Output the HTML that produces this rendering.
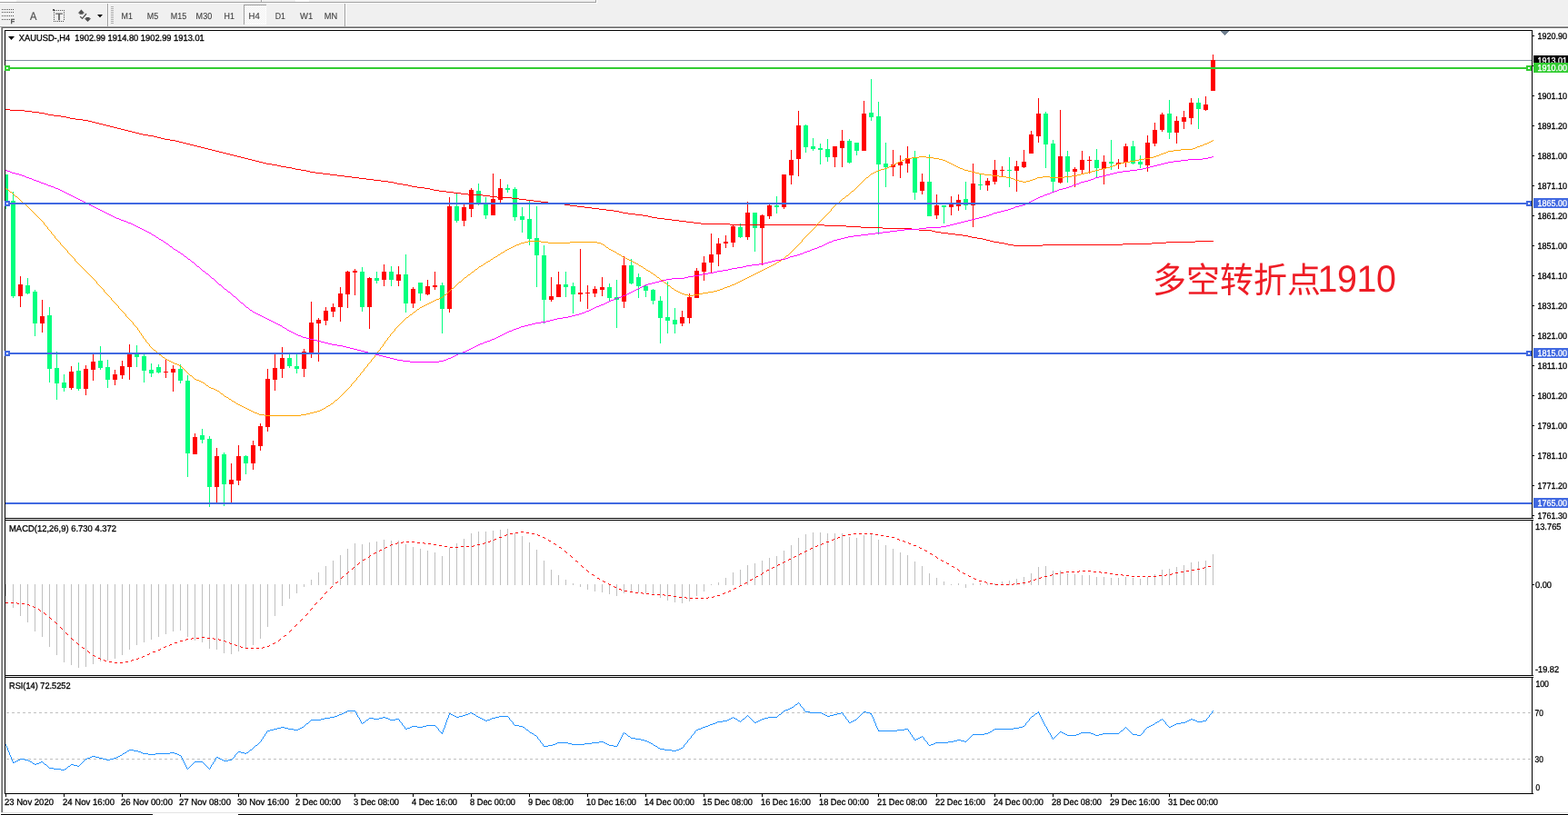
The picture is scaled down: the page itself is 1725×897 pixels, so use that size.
<!DOCTYPE html>
<html lang="zh"><head><meta charset="utf-8"><title>XAUUSD-,H4</title>
<style>
html,body{margin:0;padding:0;background:#fff;overflow:hidden}
svg{display:block;text-rendering:geometricPrecision;font-family:"Liberation Sans","Noto Sans CJK SC",sans-serif}
</style></head><body>
<svg width="1725" height="897" viewBox="0 0 1725 897">
<rect x="0" y="0" width="1725" height="897" fill="#fff"/>
<rect x="0" y="0" width="1725" height="29" fill="#f0f0f0"/>
<rect x="0" y="2" width="656" height="1" fill="#a0a0a0"/>
<rect x="0" y="3" width="657" height="1" fill="#fff"/>
<rect x="655" y="0" width="1" height="3" fill="#a0a0a0"/>
<rect x="656" y="0" width="1" height="4" fill="#fff"/>
<rect x="287" y="0" width="1" height="2" fill="#a0a0a0"/>
<rect x="288" y="0" width="1" height="2" fill="#fff"/>
<rect x="0" y="0" width="18" height="2" fill="#fff"/>
<rect x="325" y="0" width="15" height="2" fill="#fff"/>
<rect x="0" y="28" width="1725" height="1" fill="#f8f8f8"/>
<rect x="0" y="29" width="1725" height="1" fill="#a0a0a0"/>
<rect x="0" y="30" width="1725" height="1" fill="#696969"/>
<rect x="0" y="30" width="1" height="867" fill="#fff"/>
<rect x="1" y="29" width="1" height="868" fill="#a0a0a0"/>
<rect x="2" y="30" width="1" height="867" fill="#696969"/>
<g fill="#505050">
<rect x="2" y="10" width="1" height="1" fill="#505050"/>
<rect x="4" y="10" width="1" height="1" fill="#505050"/>
<rect x="6" y="10" width="1" height="1" fill="#505050"/>
<rect x="8" y="10" width="1" height="1" fill="#505050"/>
<rect x="10" y="10" width="1" height="1" fill="#505050"/>
<rect x="12" y="10" width="1" height="1" fill="#505050"/>
<rect x="14" y="10" width="1" height="1" fill="#505050"/>
<rect x="2" y="13" width="1" height="1" fill="#505050"/>
<rect x="4" y="13" width="1" height="1" fill="#505050"/>
<rect x="6" y="13" width="1" height="1" fill="#505050"/>
<rect x="8" y="13" width="1" height="1" fill="#505050"/>
<rect x="10" y="13" width="1" height="1" fill="#505050"/>
<rect x="12" y="13" width="1" height="1" fill="#505050"/>
<rect x="14" y="13" width="1" height="1" fill="#505050"/>
<rect x="2" y="17" width="1" height="1" fill="#505050"/>
<rect x="4" y="17" width="1" height="1" fill="#505050"/>
<rect x="6" y="17" width="1" height="1" fill="#505050"/>
<rect x="8" y="17" width="1" height="1" fill="#505050"/>
<rect x="10" y="17" width="1" height="1" fill="#505050"/>
<rect x="12" y="17" width="1" height="1" fill="#505050"/>
<rect x="14" y="17" width="1" height="1" fill="#505050"/>
<rect x="2" y="21" width="1" height="1" fill="#505050"/>
<rect x="4" y="21" width="1" height="1" fill="#505050"/>
<rect x="6" y="21" width="1" height="1" fill="#505050"/>
<rect x="8" y="21" width="1" height="1" fill="#505050"/>
<rect x="10" y="21" width="1" height="1" fill="#505050"/>
</g>
<text x="11.8" y="26" font-size="7.2" fill="#505050" stroke="#505050" stroke-width="0.5">F</text>
<text x="32.9" y="22" font-size="12.5" fill="#505050" stroke="#505050" stroke-width="0.2" textLength="7.4" lengthAdjust="spacingAndGlyphs">A</text>
<rect x="60" y="11" width="1" height="1" fill="#505050"/>
<rect x="59" y="23" width="1" height="1" fill="#505050"/>
<rect x="62" y="11" width="1" height="1" fill="#505050"/>
<rect x="61" y="23" width="1" height="1" fill="#505050"/>
<rect x="64" y="11" width="1" height="1" fill="#505050"/>
<rect x="63" y="23" width="1" height="1" fill="#505050"/>
<rect x="66" y="11" width="1" height="1" fill="#505050"/>
<rect x="65" y="23" width="1" height="1" fill="#505050"/>
<rect x="68" y="11" width="1" height="1" fill="#505050"/>
<rect x="67" y="23" width="1" height="1" fill="#505050"/>
<rect x="70" y="11" width="1" height="1" fill="#505050"/>
<rect x="69" y="23" width="1" height="1" fill="#505050"/>
<rect x="59" y="13" width="1" height="1" fill="#505050"/>
<rect x="70" y="13" width="1" height="1" fill="#505050"/>
<rect x="59" y="15" width="1" height="1" fill="#505050"/>
<rect x="70" y="15" width="1" height="1" fill="#505050"/>
<rect x="59" y="17" width="1" height="1" fill="#505050"/>
<rect x="70" y="17" width="1" height="1" fill="#505050"/>
<rect x="59" y="19" width="1" height="1" fill="#505050"/>
<rect x="70" y="19" width="1" height="1" fill="#505050"/>
<rect x="59" y="21" width="1" height="1" fill="#505050"/>
<rect x="70" y="21" width="1" height="1" fill="#505050"/>
<rect x="58" y="10" width="2" height="1" fill="#505050"/>
<rect x="58" y="11" width="3" height="1" fill="#505050"/>
<text x="61" y="21.6" font-size="10.5" fill="#505050" stroke="#505050" stroke-width="0.3" textLength="8" lengthAdjust="spacingAndGlyphs">T</text>
<path d="M89.4 10.6 L93.1 14.4 L91.4 14.4 L91.4 15.8 L87.4 15.8 L87.4 14.4 L85.7 14.4 Z" fill="#505050"/>
<path d="M96.5 24 L100.2 20.3 L98.5 20.3 L98.5 19 L94.5 19 L94.5 20.3 L92.8 20.3 Z" fill="#505050"/>
<path d="M88.2 18.2 L90.6 20.4 L95 15" fill="none" stroke="#505050" stroke-width="1.3"/>
<path d="M107 16 L113 16 L110 19.2 Z" fill="#000"/>
<rect x="118" y="4" width="1" height="25" fill="#a0a0a0"/>
<rect x="119" y="4" width="1" height="25" fill="#fff"/>
<rect x="122" y="7" width="3" height="1" fill="#b0b0b0"/>
<rect x="122" y="9" width="3" height="1" fill="#b0b0b0"/>
<rect x="122" y="11" width="3" height="1" fill="#b0b0b0"/>
<rect x="122" y="13" width="3" height="1" fill="#b0b0b0"/>
<rect x="122" y="15" width="3" height="1" fill="#b0b0b0"/>
<rect x="122" y="17" width="3" height="1" fill="#b0b0b0"/>
<rect x="122" y="19" width="3" height="1" fill="#b0b0b0"/>
<rect x="122" y="21" width="3" height="1" fill="#b0b0b0"/>
<rect x="122" y="23" width="3" height="1" fill="#b0b0b0"/>
<rect x="122" y="25" width="3" height="1" fill="#b0b0b0"/>
<rect x="379" y="4" width="1" height="25" fill="#a0a0a0"/>
<rect x="380" y="4" width="1" height="25" fill="#fff"/>
<defs><pattern id="chk" width="2" height="2" patternUnits="userSpaceOnUse"><rect width="2" height="2" fill="#f0f0f0"/><rect width="1" height="1" fill="#fff"/><rect x="1" y="1" width="1" height="1" fill="#fff"/></pattern></defs>
<rect x="268" y="5" width="25" height="22" fill="url(#chk)"/>
<rect x="268" y="26" width="25" height="1" fill="#fff"/>
<rect x="292" y="5" width="1" height="22" fill="#fff"/>
<rect x="268" y="5" width="25" height="1" fill="#a0a0a0"/>
<rect x="268" y="5" width="1" height="22" fill="#a0a0a0"/>
<text x="133.6" y="21" font-size="10" fill="#3c3c3c" stroke="#3c3c3c" stroke-width="0.1" textLength="12.4" lengthAdjust="spacingAndGlyphs">M1</text>
<text x="161.8" y="21" font-size="10" fill="#3c3c3c" stroke="#3c3c3c" stroke-width="0.1" textLength="12.4" lengthAdjust="spacingAndGlyphs">M5</text>
<text x="187.8" y="21" font-size="10" fill="#3c3c3c" stroke="#3c3c3c" stroke-width="0.1" textLength="17.4" lengthAdjust="spacingAndGlyphs">M15</text>
<text x="215.6" y="21" font-size="10" fill="#3c3c3c" stroke="#3c3c3c" stroke-width="0.1" textLength="17.6" lengthAdjust="spacingAndGlyphs">M30</text>
<text x="246.6" y="21" font-size="10" fill="#3c3c3c" stroke="#3c3c3c" stroke-width="0.1" textLength="11.4" lengthAdjust="spacingAndGlyphs">H1</text>
<text x="273.6" y="21" font-size="10" fill="#3c3c3c" stroke="#3c3c3c" stroke-width="0.1" textLength="12.2" lengthAdjust="spacingAndGlyphs">H4</text>
<text x="302.8" y="21" font-size="10" fill="#3c3c3c" stroke="#3c3c3c" stroke-width="0.1" textLength="11.2" lengthAdjust="spacingAndGlyphs">D1</text>
<text x="330" y="21" font-size="10" fill="#3c3c3c" stroke="#3c3c3c" stroke-width="0.1" textLength="14.2" lengthAdjust="spacingAndGlyphs">W1</text>
<text x="356.8" y="21" font-size="10" fill="#3c3c3c" stroke="#3c3c3c" stroke-width="0.1" textLength="14.4" lengthAdjust="spacingAndGlyphs">MN</text>
<rect x="5" y="33" width="1" height="841" fill="#000"/>
<rect x="1685" y="33" width="1" height="841" fill="#000"/>
<rect x="5" y="33" width="1680" height="1" fill="#000"/>
<rect x="5" y="570" width="1680" height="1" fill="#000"/>
<rect x="5" y="572" width="1680" height="1" fill="#000"/>
<rect x="5" y="743" width="1680" height="1" fill="#000"/>
<rect x="5" y="745" width="1680" height="1" fill="#000"/>
<rect x="5" y="873" width="1681" height="1" fill="#000"/>
<rect x="1685" y="571" width="1" height="1" fill="#fff"/>
<rect x="1685" y="744" width="1" height="1" fill="#fff"/>
<rect x="1686" y="570" width="1" height="1" fill="#000"/>
<rect x="1686" y="572" width="1" height="1" fill="#000"/>
<rect x="1686" y="743" width="1" height="1" fill="#000"/>
<rect x="1686" y="745" width="1" height="1" fill="#000"/>
<rect x="1686" y="873" width="1" height="1" fill="#000"/>
<rect x="0" y="894" width="1725" height="3" fill="#fff"/>
<rect x="1" y="894" width="1725" height="1" fill="#e3e3e3"/>
<rect x="1" y="896" width="167" height="1" fill="#000"/>
<rect x="262" y="896" width="1463" height="1" fill="#000"/>
<g shape-rendering="crispEdges">
<rect x="6" y="66" width="1679" height="1" fill="#8090a0"/>
<path d="M1342.5 34 L1353 34 L1347.8 39 Z" fill="#708090"/>
<rect x="6" y="192" width="1" height="38" fill="#00ff7f"/>
<rect x="6" y="192" width="3" height="32" fill="#00ff7f"/>
<rect x="14" y="211" width="1" height="117" fill="#00ff7f"/>
<rect x="12" y="221" width="5" height="105" fill="#00ff7f"/>
<rect x="22" y="304" width="1" height="34" fill="#ff0000"/>
<rect x="20" y="313" width="5" height="13" fill="#ff0000"/>
<rect x="30" y="306" width="1" height="18" fill="#00ff7f"/>
<rect x="28" y="314" width="5" height="9" fill="#00ff7f"/>
<rect x="38" y="319" width="1" height="51" fill="#00ff7f"/>
<rect x="36" y="321" width="5" height="35" fill="#00ff7f"/>
<rect x="46" y="330" width="1" height="36" fill="#ff0000"/>
<rect x="44" y="348" width="5" height="8" fill="#ff0000"/>
<rect x="54" y="338" width="1" height="83" fill="#00ff7f"/>
<rect x="52" y="347" width="5" height="59" fill="#00ff7f"/>
<rect x="62" y="387" width="1" height="53" fill="#00ff7f"/>
<rect x="60" y="405" width="5" height="17" fill="#00ff7f"/>
<rect x="70" y="412" width="1" height="19" fill="#00ff7f"/>
<rect x="68" y="421" width="5" height="6" fill="#00ff7f"/>
<rect x="78" y="403" width="1" height="26" fill="#ff0000"/>
<rect x="76" y="409" width="5" height="18" fill="#ff0000"/>
<rect x="86" y="399" width="1" height="31" fill="#00ff7f"/>
<rect x="84" y="408" width="5" height="20" fill="#00ff7f"/>
<rect x="94" y="402" width="1" height="33" fill="#ff0000"/>
<rect x="92" y="406" width="5" height="22" fill="#ff0000"/>
<rect x="102" y="390" width="1" height="29" fill="#ff0000"/>
<rect x="100" y="398" width="5" height="9" fill="#ff0000"/>
<rect x="110" y="381" width="1" height="26" fill="#00ff7f"/>
<rect x="108" y="397" width="5" height="8" fill="#00ff7f"/>
<rect x="118" y="396" width="1" height="31" fill="#00ff7f"/>
<rect x="116" y="404" width="5" height="14" fill="#00ff7f"/>
<rect x="126" y="407" width="1" height="17" fill="#ff0000"/>
<rect x="124" y="412" width="5" height="6" fill="#ff0000"/>
<rect x="134" y="397" width="1" height="20" fill="#ff0000"/>
<rect x="132" y="403" width="5" height="10" fill="#ff0000"/>
<rect x="142" y="379" width="1" height="39" fill="#ff0000"/>
<rect x="140" y="390" width="5" height="14" fill="#ff0000"/>
<rect x="150" y="380" width="1" height="24" fill="#00ff7f"/>
<rect x="148" y="390" width="5" height="3" fill="#00ff7f"/>
<rect x="158" y="390" width="1" height="31" fill="#00ff7f"/>
<rect x="156" y="392" width="5" height="16" fill="#00ff7f"/>
<rect x="166" y="400" width="1" height="15" fill="#00ff7f"/>
<rect x="164" y="407" width="5" height="4" fill="#00ff7f"/>
<rect x="174" y="401" width="1" height="10" fill="#00ff7f"/>
<rect x="172" y="404" width="5" height="6" fill="#00ff7f"/>
<rect x="182" y="395" width="1" height="21" fill="#ff0000"/>
<rect x="180" y="409" width="5" height="1" fill="#ff0000"/>
<rect x="190" y="402" width="1" height="29" fill="#ff0000"/>
<rect x="188" y="406" width="5" height="4" fill="#ff0000"/>
<rect x="198" y="401" width="1" height="21" fill="#00ff7f"/>
<rect x="196" y="406" width="5" height="13" fill="#00ff7f"/>
<rect x="206" y="413" width="1" height="112" fill="#00ff7f"/>
<rect x="204" y="419" width="5" height="80" fill="#00ff7f"/>
<rect x="214" y="477" width="1" height="23" fill="#ff0000"/>
<rect x="212" y="481" width="5" height="19" fill="#ff0000"/>
<rect x="222" y="472" width="1" height="16" fill="#00ff7f"/>
<rect x="220" y="479" width="5" height="5" fill="#00ff7f"/>
<rect x="230" y="480" width="1" height="78" fill="#00ff7f"/>
<rect x="228" y="483" width="5" height="53" fill="#00ff7f"/>
<rect x="238" y="493" width="1" height="60" fill="#ff0000"/>
<rect x="236" y="502" width="5" height="34" fill="#ff0000"/>
<rect x="246" y="498" width="1" height="59" fill="#00ff7f"/>
<rect x="244" y="500" width="5" height="33" fill="#00ff7f"/>
<rect x="254" y="510" width="1" height="43" fill="#ff0000"/>
<rect x="252" y="528" width="5" height="5" fill="#ff0000"/>
<rect x="262" y="490" width="1" height="44" fill="#ff0000"/>
<rect x="260" y="502" width="5" height="27" fill="#ff0000"/>
<rect x="270" y="501" width="1" height="21" fill="#00ff7f"/>
<rect x="268" y="502" width="5" height="8" fill="#00ff7f"/>
<rect x="278" y="485" width="1" height="32" fill="#ff0000"/>
<rect x="276" y="490" width="5" height="20" fill="#ff0000"/>
<rect x="286" y="466" width="1" height="30" fill="#ff0000"/>
<rect x="284" y="469" width="5" height="22" fill="#ff0000"/>
<rect x="294" y="406" width="1" height="69" fill="#ff0000"/>
<rect x="292" y="417" width="5" height="53" fill="#ff0000"/>
<rect x="302" y="390" width="1" height="40" fill="#ff0000"/>
<rect x="300" y="405" width="5" height="13" fill="#ff0000"/>
<rect x="310" y="382" width="1" height="34" fill="#ff0000"/>
<rect x="308" y="394" width="5" height="12" fill="#ff0000"/>
<rect x="318" y="390" width="1" height="15" fill="#00ff7f"/>
<rect x="316" y="394" width="5" height="9" fill="#00ff7f"/>
<rect x="326" y="390" width="1" height="21" fill="#00ff7f"/>
<rect x="324" y="403" width="5" height="3" fill="#00ff7f"/>
<rect x="334" y="384" width="1" height="31" fill="#ff0000"/>
<rect x="332" y="387" width="5" height="19" fill="#ff0000"/>
<rect x="342" y="332" width="1" height="62" fill="#ff0000"/>
<rect x="340" y="355" width="5" height="33" fill="#ff0000"/>
<rect x="350" y="350" width="1" height="48" fill="#ff0000"/>
<rect x="348" y="352" width="5" height="4" fill="#ff0000"/>
<rect x="358" y="338" width="1" height="20" fill="#ff0000"/>
<rect x="356" y="342" width="5" height="11" fill="#ff0000"/>
<rect x="366" y="334" width="1" height="15" fill="#ff0000"/>
<rect x="364" y="338" width="5" height="5" fill="#ff0000"/>
<rect x="374" y="316" width="1" height="38" fill="#ff0000"/>
<rect x="372" y="323" width="5" height="15" fill="#ff0000"/>
<rect x="382" y="298" width="1" height="41" fill="#ff0000"/>
<rect x="380" y="299" width="5" height="25" fill="#ff0000"/>
<rect x="390" y="296" width="1" height="29" fill="#ff0000"/>
<rect x="388" y="298" width="5" height="2" fill="#ff0000"/>
<rect x="398" y="294" width="1" height="49" fill="#00ff7f"/>
<rect x="396" y="299" width="5" height="39" fill="#00ff7f"/>
<rect x="406" y="305" width="1" height="57" fill="#ff0000"/>
<rect x="404" y="306" width="5" height="32" fill="#ff0000"/>
<rect x="414" y="299" width="1" height="13" fill="#00ff7f"/>
<rect x="412" y="306" width="5" height="3" fill="#00ff7f"/>
<rect x="422" y="291" width="1" height="24" fill="#ff0000"/>
<rect x="420" y="299" width="5" height="9" fill="#ff0000"/>
<rect x="430" y="293" width="1" height="22" fill="#00ff7f"/>
<rect x="428" y="299" width="5" height="9" fill="#00ff7f"/>
<rect x="438" y="293" width="1" height="22" fill="#ff0000"/>
<rect x="436" y="302" width="5" height="7" fill="#ff0000"/>
<rect x="446" y="280" width="1" height="64" fill="#00ff7f"/>
<rect x="444" y="302" width="5" height="32" fill="#00ff7f"/>
<rect x="454" y="316" width="1" height="23" fill="#ff0000"/>
<rect x="452" y="318" width="5" height="16" fill="#ff0000"/>
<rect x="462" y="311" width="1" height="20" fill="#00ff7f"/>
<rect x="460" y="311" width="5" height="12" fill="#00ff7f"/>
<rect x="470" y="308" width="1" height="17" fill="#ff0000"/>
<rect x="468" y="315" width="5" height="9" fill="#ff0000"/>
<rect x="478" y="299" width="1" height="20" fill="#ff0000"/>
<rect x="476" y="314" width="5" height="2" fill="#ff0000"/>
<rect x="486" y="311" width="1" height="56" fill="#00ff7f"/>
<rect x="484" y="314" width="5" height="26" fill="#00ff7f"/>
<rect x="494" y="217" width="1" height="127" fill="#ff0000"/>
<rect x="492" y="227" width="5" height="113" fill="#ff0000"/>
<rect x="502" y="213" width="1" height="32" fill="#00ff7f"/>
<rect x="500" y="227" width="5" height="16" fill="#00ff7f"/>
<rect x="510" y="225" width="1" height="24" fill="#ff0000"/>
<rect x="508" y="228" width="5" height="15" fill="#ff0000"/>
<rect x="518" y="207" width="1" height="32" fill="#ff0000"/>
<rect x="516" y="209" width="5" height="21" fill="#ff0000"/>
<rect x="526" y="202" width="1" height="24" fill="#00ff7f"/>
<rect x="524" y="210" width="5" height="13" fill="#00ff7f"/>
<rect x="534" y="217" width="1" height="24" fill="#00ff7f"/>
<rect x="532" y="225" width="5" height="12" fill="#00ff7f"/>
<rect x="542" y="191" width="1" height="46" fill="#ff0000"/>
<rect x="540" y="219" width="5" height="18" fill="#ff0000"/>
<rect x="550" y="197" width="1" height="26" fill="#ff0000"/>
<rect x="548" y="207" width="5" height="13" fill="#ff0000"/>
<rect x="558" y="203" width="1" height="9" fill="#00ff7f"/>
<rect x="556" y="207" width="5" height="2" fill="#00ff7f"/>
<rect x="566" y="206" width="1" height="37" fill="#00ff7f"/>
<rect x="564" y="208" width="5" height="31" fill="#00ff7f"/>
<rect x="574" y="228" width="1" height="28" fill="#00ff7f"/>
<rect x="572" y="238" width="5" height="4" fill="#00ff7f"/>
<rect x="582" y="221" width="1" height="49" fill="#00ff7f"/>
<rect x="580" y="241" width="5" height="22" fill="#00ff7f"/>
<rect x="590" y="227" width="1" height="89" fill="#00ff7f"/>
<rect x="588" y="262" width="5" height="19" fill="#00ff7f"/>
<rect x="598" y="270" width="1" height="86" fill="#00ff7f"/>
<rect x="596" y="281" width="5" height="49" fill="#00ff7f"/>
<rect x="606" y="305" width="1" height="27" fill="#ff0000"/>
<rect x="604" y="326" width="5" height="4" fill="#ff0000"/>
<rect x="614" y="299" width="1" height="28" fill="#ff0000"/>
<rect x="612" y="313" width="5" height="14" fill="#ff0000"/>
<rect x="622" y="299" width="1" height="28" fill="#00ff7f"/>
<rect x="620" y="313" width="5" height="3" fill="#00ff7f"/>
<rect x="630" y="311" width="1" height="34" fill="#00ff7f"/>
<rect x="628" y="315" width="5" height="9" fill="#00ff7f"/>
<rect x="638" y="274" width="1" height="58" fill="#ff0000"/>
<rect x="636" y="322" width="5" height="2" fill="#ff0000"/>
<rect x="646" y="314" width="1" height="26" fill="#ff0000"/>
<rect x="644" y="322" width="5" height="1" fill="#ff0000"/>
<rect x="654" y="315" width="1" height="12" fill="#ff0000"/>
<rect x="652" y="318" width="5" height="5" fill="#ff0000"/>
<rect x="662" y="305" width="1" height="21" fill="#ff0000"/>
<rect x="660" y="316" width="5" height="3" fill="#ff0000"/>
<rect x="670" y="312" width="1" height="20" fill="#00ff7f"/>
<rect x="668" y="316" width="5" height="12" fill="#00ff7f"/>
<rect x="678" y="308" width="1" height="53" fill="#00ff7f"/>
<rect x="676" y="327" width="5" height="3" fill="#00ff7f"/>
<rect x="686" y="282" width="1" height="57" fill="#ff0000"/>
<rect x="684" y="292" width="5" height="40" fill="#ff0000"/>
<rect x="694" y="285" width="1" height="28" fill="#00ff7f"/>
<rect x="692" y="292" width="5" height="20" fill="#00ff7f"/>
<rect x="702" y="301" width="1" height="27" fill="#00ff7f"/>
<rect x="700" y="305" width="5" height="10" fill="#00ff7f"/>
<rect x="710" y="314" width="1" height="13" fill="#00ff7f"/>
<rect x="708" y="315" width="5" height="5" fill="#00ff7f"/>
<rect x="718" y="318" width="1" height="17" fill="#00ff7f"/>
<rect x="716" y="319" width="5" height="12" fill="#00ff7f"/>
<rect x="726" y="326" width="1" height="52" fill="#00ff7f"/>
<rect x="724" y="331" width="5" height="19" fill="#00ff7f"/>
<rect x="734" y="310" width="1" height="57" fill="#00ff7f"/>
<rect x="732" y="349" width="5" height="4" fill="#00ff7f"/>
<rect x="742" y="339" width="1" height="28" fill="#00ff7f"/>
<rect x="740" y="352" width="5" height="5" fill="#00ff7f"/>
<rect x="750" y="342" width="1" height="17" fill="#ff0000"/>
<rect x="748" y="349" width="5" height="7" fill="#ff0000"/>
<rect x="758" y="323" width="1" height="33" fill="#ff0000"/>
<rect x="756" y="327" width="5" height="23" fill="#ff0000"/>
<rect x="766" y="295" width="1" height="33" fill="#ff0000"/>
<rect x="764" y="298" width="5" height="30" fill="#ff0000"/>
<rect x="774" y="282" width="1" height="27" fill="#ff0000"/>
<rect x="772" y="289" width="5" height="10" fill="#ff0000"/>
<rect x="782" y="257" width="1" height="44" fill="#ff0000"/>
<rect x="780" y="280" width="5" height="9" fill="#ff0000"/>
<rect x="790" y="262" width="1" height="31" fill="#ff0000"/>
<rect x="788" y="268" width="5" height="12" fill="#ff0000"/>
<rect x="798" y="259" width="1" height="14" fill="#ff0000"/>
<rect x="796" y="266" width="5" height="2" fill="#ff0000"/>
<rect x="806" y="247" width="1" height="25" fill="#ff0000"/>
<rect x="804" y="249" width="5" height="18" fill="#ff0000"/>
<rect x="814" y="246" width="1" height="16" fill="#00ff7f"/>
<rect x="812" y="250" width="5" height="11" fill="#00ff7f"/>
<rect x="822" y="222" width="1" height="42" fill="#ff0000"/>
<rect x="820" y="234" width="5" height="27" fill="#ff0000"/>
<rect x="830" y="234" width="1" height="43" fill="#00ff7f"/>
<rect x="828" y="234" width="5" height="17" fill="#00ff7f"/>
<rect x="838" y="236" width="1" height="56" fill="#ff0000"/>
<rect x="836" y="237" width="5" height="14" fill="#ff0000"/>
<rect x="846" y="224" width="1" height="17" fill="#ff0000"/>
<rect x="844" y="226" width="5" height="12" fill="#ff0000"/>
<rect x="854" y="216" width="1" height="19" fill="#00ff7f"/>
<rect x="852" y="226" width="5" height="2" fill="#00ff7f"/>
<rect x="862" y="192" width="1" height="38" fill="#ff0000"/>
<rect x="860" y="192" width="5" height="36" fill="#ff0000"/>
<rect x="870" y="165" width="1" height="38" fill="#ff0000"/>
<rect x="868" y="176" width="5" height="17" fill="#ff0000"/>
<rect x="878" y="122" width="1" height="72" fill="#ff0000"/>
<rect x="876" y="138" width="5" height="37" fill="#ff0000"/>
<rect x="886" y="137" width="1" height="31" fill="#00ff7f"/>
<rect x="884" y="138" width="5" height="24" fill="#00ff7f"/>
<rect x="894" y="152" width="1" height="14" fill="#00ff7f"/>
<rect x="892" y="161" width="5" height="3" fill="#00ff7f"/>
<rect x="902" y="158" width="1" height="23" fill="#00ff7f"/>
<rect x="900" y="163" width="5" height="2" fill="#00ff7f"/>
<rect x="910" y="153" width="1" height="25" fill="#00ff7f"/>
<rect x="908" y="164" width="5" height="9" fill="#00ff7f"/>
<rect x="918" y="161" width="1" height="23" fill="#ff0000"/>
<rect x="916" y="161" width="5" height="12" fill="#ff0000"/>
<rect x="926" y="143" width="1" height="41" fill="#ff0000"/>
<rect x="924" y="155" width="5" height="8" fill="#ff0000"/>
<rect x="934" y="153" width="1" height="27" fill="#00ff7f"/>
<rect x="932" y="155" width="5" height="24" fill="#00ff7f"/>
<rect x="942" y="157" width="1" height="14" fill="#00ff7f"/>
<rect x="940" y="157" width="5" height="9" fill="#00ff7f"/>
<rect x="950" y="111" width="1" height="55" fill="#ff0000"/>
<rect x="948" y="125" width="5" height="41" fill="#ff0000"/>
<rect x="958" y="87" width="1" height="46" fill="#00ff7f"/>
<rect x="956" y="124" width="5" height="5" fill="#00ff7f"/>
<rect x="966" y="112" width="1" height="146" fill="#00ff7f"/>
<rect x="964" y="128" width="5" height="53" fill="#00ff7f"/>
<rect x="974" y="157" width="1" height="49" fill="#00ff7f"/>
<rect x="972" y="180" width="5" height="4" fill="#00ff7f"/>
<rect x="982" y="165" width="1" height="29" fill="#ff0000"/>
<rect x="980" y="181" width="5" height="3" fill="#ff0000"/>
<rect x="990" y="171" width="1" height="25" fill="#ff0000"/>
<rect x="988" y="178" width="5" height="4" fill="#ff0000"/>
<rect x="998" y="161" width="1" height="29" fill="#ff0000"/>
<rect x="996" y="174" width="5" height="6" fill="#ff0000"/>
<rect x="1006" y="166" width="1" height="54" fill="#00ff7f"/>
<rect x="1004" y="173" width="5" height="39" fill="#00ff7f"/>
<rect x="1014" y="191" width="1" height="23" fill="#ff0000"/>
<rect x="1012" y="200" width="5" height="10" fill="#ff0000"/>
<rect x="1022" y="170" width="1" height="68" fill="#00ff7f"/>
<rect x="1020" y="200" width="5" height="38" fill="#00ff7f"/>
<rect x="1030" y="214" width="1" height="27" fill="#ff0000"/>
<rect x="1028" y="226" width="5" height="11" fill="#ff0000"/>
<rect x="1038" y="226" width="1" height="20" fill="#00ff7f"/>
<rect x="1036" y="226" width="5" height="2" fill="#00ff7f"/>
<rect x="1046" y="216" width="1" height="21" fill="#ff0000"/>
<rect x="1044" y="225" width="5" height="3" fill="#ff0000"/>
<rect x="1054" y="214" width="1" height="18" fill="#ff0000"/>
<rect x="1052" y="220" width="5" height="7" fill="#ff0000"/>
<rect x="1062" y="200" width="1" height="31" fill="#00ff7f"/>
<rect x="1060" y="219" width="5" height="7" fill="#00ff7f"/>
<rect x="1070" y="180" width="1" height="70" fill="#ff0000"/>
<rect x="1068" y="202" width="5" height="24" fill="#ff0000"/>
<rect x="1078" y="191" width="1" height="18" fill="#00ff7f"/>
<rect x="1076" y="203" width="5" height="1" fill="#00ff7f"/>
<rect x="1086" y="196" width="1" height="14" fill="#ff0000"/>
<rect x="1084" y="199" width="5" height="5" fill="#ff0000"/>
<rect x="1094" y="176" width="1" height="27" fill="#ff0000"/>
<rect x="1092" y="187" width="5" height="13" fill="#ff0000"/>
<rect x="1102" y="183" width="1" height="11" fill="#ff0000"/>
<rect x="1100" y="187" width="5" height="1" fill="#ff0000"/>
<rect x="1110" y="173" width="1" height="33" fill="#00ff7f"/>
<rect x="1108" y="187" width="5" height="1" fill="#00ff7f"/>
<rect x="1118" y="177" width="1" height="34" fill="#ff0000"/>
<rect x="1116" y="183" width="5" height="5" fill="#ff0000"/>
<rect x="1126" y="165" width="1" height="20" fill="#ff0000"/>
<rect x="1124" y="178" width="5" height="6" fill="#ff0000"/>
<rect x="1134" y="144" width="1" height="25" fill="#ff0000"/>
<rect x="1132" y="148" width="5" height="21" fill="#ff0000"/>
<rect x="1142" y="108" width="1" height="49" fill="#ff0000"/>
<rect x="1140" y="125" width="5" height="25" fill="#ff0000"/>
<rect x="1150" y="123" width="1" height="62" fill="#00ff7f"/>
<rect x="1148" y="125" width="5" height="34" fill="#00ff7f"/>
<rect x="1158" y="154" width="1" height="58" fill="#00ff7f"/>
<rect x="1156" y="158" width="5" height="42" fill="#00ff7f"/>
<rect x="1166" y="121" width="1" height="81" fill="#ff0000"/>
<rect x="1164" y="172" width="5" height="29" fill="#ff0000"/>
<rect x="1174" y="166" width="1" height="35" fill="#00ff7f"/>
<rect x="1172" y="172" width="5" height="17" fill="#00ff7f"/>
<rect x="1182" y="184" width="1" height="22" fill="#ff0000"/>
<rect x="1180" y="186" width="5" height="3" fill="#ff0000"/>
<rect x="1190" y="166" width="1" height="25" fill="#ff0000"/>
<rect x="1188" y="176" width="5" height="11" fill="#ff0000"/>
<rect x="1198" y="172" width="1" height="19" fill="#ff0000"/>
<rect x="1196" y="176" width="5" height="1" fill="#ff0000"/>
<rect x="1206" y="164" width="1" height="31" fill="#00ff7f"/>
<rect x="1204" y="176" width="5" height="9" fill="#00ff7f"/>
<rect x="1214" y="171" width="1" height="32" fill="#ff0000"/>
<rect x="1212" y="178" width="5" height="8" fill="#ff0000"/>
<rect x="1222" y="154" width="1" height="33" fill="#00ff7f"/>
<rect x="1220" y="178" width="5" height="2" fill="#00ff7f"/>
<rect x="1230" y="175" width="1" height="11" fill="#ff0000"/>
<rect x="1228" y="179" width="5" height="2" fill="#ff0000"/>
<rect x="1238" y="158" width="1" height="26" fill="#ff0000"/>
<rect x="1236" y="161" width="5" height="18" fill="#ff0000"/>
<rect x="1246" y="155" width="1" height="26" fill="#00ff7f"/>
<rect x="1244" y="161" width="5" height="19" fill="#00ff7f"/>
<rect x="1254" y="171" width="1" height="14" fill="#00ff7f"/>
<rect x="1252" y="178" width="5" height="3" fill="#00ff7f"/>
<rect x="1262" y="149" width="1" height="40" fill="#ff0000"/>
<rect x="1260" y="157" width="5" height="25" fill="#ff0000"/>
<rect x="1270" y="135" width="1" height="26" fill="#ff0000"/>
<rect x="1268" y="143" width="5" height="15" fill="#ff0000"/>
<rect x="1278" y="124" width="1" height="21" fill="#ff0000"/>
<rect x="1276" y="126" width="5" height="17" fill="#ff0000"/>
<rect x="1286" y="110" width="1" height="43" fill="#00ff7f"/>
<rect x="1284" y="125" width="5" height="21" fill="#00ff7f"/>
<rect x="1294" y="128" width="1" height="30" fill="#ff0000"/>
<rect x="1292" y="133" width="5" height="13" fill="#ff0000"/>
<rect x="1302" y="122" width="1" height="20" fill="#ff0000"/>
<rect x="1300" y="129" width="5" height="5" fill="#ff0000"/>
<rect x="1310" y="108" width="1" height="29" fill="#ff0000"/>
<rect x="1308" y="113" width="5" height="17" fill="#ff0000"/>
<rect x="1318" y="108" width="1" height="34" fill="#00ff7f"/>
<rect x="1316" y="113" width="5" height="7" fill="#00ff7f"/>
<rect x="1326" y="106" width="1" height="16" fill="#ff0000"/>
<rect x="1324" y="115" width="5" height="6" fill="#ff0000"/>
<rect x="1334" y="60" width="1" height="40" fill="#ff0000"/>
<rect x="1332" y="66" width="5" height="34" fill="#ff0000"/>
<path d="M6 120.5h5M11 121.5h16M27 122.5h8M35 123.5h8M43 124.5h6M49 125.5h4M53 126.5h6M59 127.5h8M67 128.5h6M73 129.5h4M77 130.5h6M83 131.5h8M91 132.5h6M97 133.5h4M101 134.5h4M105 135.5h4M109 136.5h4M113 137.5h4M117 138.5h4M121 139.5h4M125 140.5h4M129 141.5h4M133 142.5h4M137 143.5h4M141 144.5h4M145 145.5h4M149 146.5h4M153 147.5h4M157 148.5h6M163 149.5h6M169 150.5h4M173 151.5h4M177 152.5h4M181 153.5h6M187 154.5h6M193 155.5h4M197 156.5h4M201 157.5h4M205 158.5h4M209 159.5h4M213 160.5h4M217 161.5h4M221 162.5h4M225 163.5h4M229 164.5h4M233 165.5h4M237 166.5h4M241 167.5h4M245 168.5h4M249 169.5h4M253 170.5h4M257 171.5h4M261 172.5h4M265 173.5h4M269 174.5h4M273 175.5h4M277 176.5h4M281 177.5h4M285 178.5h4M289 179.5h4M293 180.5h6M299 181.5h6M305 182.5h4M309 183.5h6M315 184.5h6M321 185.5h4M325 186.5h6M331 187.5h6M337 188.5h4M341 189.5h6M347 190.5h8M355 191.5h8M363 192.5h8M371 193.5h8M379 194.5h8M387 195.5h8M395 196.5h8M403 197.5h8M411 198.5h8M419 199.5h8M427 200.5h6M433 201.5h4M437 202.5h6M443 203.5h6M449 204.5h4M453 205.5h6M459 206.5h8M467 207.5h6M473 208.5h4M477 209.5h6M483 210.5h8M491 211.5h8M499 212.5h8M507 213.5h8M515 214.5h16M531 215.5h8M539 216.5h8M547 217.5h16M563 218.5h8M571 219.5h8M579 220.5h8M587 221.5h8M595 222.5h8M603 223.5h14M617 224.5h4M621 225.5h6M627 226.5h8M635 227.5h8M643 228.5h8M651 229.5h8M659 230.5h8M667 231.5h8M675 232.5h6M681 233.5h4M685 234.5h6M691 235.5h8M699 236.5h8M707 237.5h6M713 238.5h4M717 239.5h6M723 240.5h8M731 241.5h8M739 242.5h8M747 243.5h8M755 244.5h8M763 245.5h8M771 246.5h32M803 247.5h104M907 248.5h24M931 249.5h16M947 250.5h24M971 251.5h32M1003 252.5h8M1011 253.5h14M1025 254.5h4M1029 255.5h6M1035 256.5h8M1043 257.5h8M1051 258.5h8M1059 259.5h6M1065 260.5h4M1069 261.5h6M1075 262.5h6M1081 263.5h4M1085 264.5h4M1089 265.5h4M1315 265.5h20M1093 266.5h6M1283 266.5h32M1099 267.5h6M1267 267.5h16M1105 268.5h4M1235 268.5h32M1109 269.5h6M1147 269.5h88M1115 270.5h32" fill="none" stroke="#ff0000" stroke-width="1"/>
<path d="M1334 154.5h1M1332 155.5h2M1330 156.5h2M1328 157.5h2M1325 158.5h3M1323 159.5h2M1320 160.5h3M1317 161.5h3M1315 162.5h2M1312 163.5h3M1299 164.5h13M1291 165.5h8M1285 166.5h6M1283 167.5h2M1280 168.5h3M1277 169.5h3M1275 170.5h2M1272 171.5h3M1011 172.5h8M1269 172.5h3M1003 173.5h8M1019 173.5h8M1265 173.5h4M997 174.5h6M1027 174.5h6M1259 174.5h6M995 175.5h2M1033 175.5h4M1253 175.5h6M992 176.5h3M1037 176.5h3M1249 176.5h4M990 177.5h2M1040 177.5h2M1243 177.5h6M988 178.5h2M1042 178.5h2M1237 178.5h6M986 179.5h2M1044 179.5h2M1233 179.5h4M984 180.5h2M1046 180.5h2M1229 180.5h4M982 181.5h2M1048 181.5h2M1227 181.5h2M980 182.5h2M1050 182.5h2M1224 182.5h3M978 183.5h2M1052 183.5h2M1221 183.5h3M976 184.5h2M1054 184.5h2M1217 184.5h4M973 185.5h3M1056 185.5h3M1213 185.5h4M969 186.5h4M1059 186.5h2M1209 186.5h4M966 187.5h3M1061 187.5h4M1205 187.5h4M964 188.5h2M1065 188.5h4M1201 188.5h4M962 189.5h2M1069 189.5h4M1197 189.5h4M960 190.5h2M1073 190.5h4M1193 190.5h4M958 191.5h2M1077 191.5h6M1189 191.5h4M957 192.5h1M1083 192.5h8M1185 192.5h4M956 193.5h1M1091 193.5h8M1179 193.5h6M955 194.5h1M1099 194.5h8M1147 194.5h8M1171 194.5h8M953 195.5h2M1107 195.5h5M1141 195.5h6M1155 195.5h16M952 196.5h1M1112 196.5h3M1139 196.5h2M951 197.5h1M1115 197.5h2M1136 197.5h3M950 198.5h1M1117 198.5h4M1133 198.5h3M949 199.5h1M1121 199.5h4M1129 199.5h4M948 200.5h1M1125 200.5h4M947 201.5h1M946 202.5h1M945 203.5h1M944 204.5h1M943 205.5h1M942 206.5h1M6 207.5h1M941 207.5h1M7 208.5h2M940 208.5h1M9 209.5h1M939 209.5h1M10 210.5h1M937 210.5h2M11 211.5h2M936 211.5h1M13 212.5h1M935 212.5h1M14 213.5h1M934 213.5h1M15 214.5h1M933 214.5h1M16 215.5h1M931 215.5h2M17 216.5h2M930 216.5h1M19 217.5h1M929 217.5h1M20 218.5h1M927 218.5h2M21 219.5h1M926 219.5h1M22 220.5h1M925 220.5h1M23 221.5h1M924 221.5h1M24 222.5h1M923 222.5h1M25 223.5h2M921 223.5h2M27 224.5h1M920 224.5h1M28 225.5h1M919 225.5h1M29 226.5h1M918 226.5h1M30 227.5h1M917 227.5h1M31 228.5h1M916 228.5h1M32 229.5h1M915 229.5h1M33 230.5h1M914 230.5h1M34 231.5h1M914 231.5h1M35 232.5h1M913 232.5h1M36 233.5h1M912 233.5h1M37 234.5h1M911 234.5h1M38 235.5h1M910 235.5h1M39 236.5h1M909 236.5h1M40 237.5h1M908 237.5h1M41 238.5h1M907 238.5h1M42 239.5h1M906 239.5h1M43 240.5h1M905 240.5h1M44 241.5h1M904 241.5h1M45 242.5h1M903 242.5h1M46 243.5h1M902 243.5h1M47 244.5h1M901 244.5h1M48 245.5h1M900 245.5h1M48 246.5h1M899 246.5h1M49 247.5h1M898 247.5h1M50 248.5h1M898 248.5h1M51 249.5h1M897 249.5h1M52 250.5h1M896 250.5h1M52 251.5h1M895 251.5h1M53 252.5h1M894 252.5h1M54 253.5h1M893 253.5h1M55 254.5h1M892 254.5h1M56 255.5h1M891 255.5h1M56 256.5h1M890 256.5h1M57 257.5h1M889 257.5h1M58 258.5h1M888 258.5h1M59 259.5h1M887 259.5h1M60 260.5h1M886 260.5h1M60 261.5h1M885 261.5h1M61 262.5h1M884 262.5h1M62 263.5h1M883 263.5h1M63 264.5h1M882 264.5h1M64 265.5h1M581 265.5h14M882 265.5h1M65 266.5h1M577 266.5h4M595 266.5h8M627 266.5h30M881 266.5h1M66 267.5h1M573 267.5h4M603 267.5h24M657 267.5h4M880 267.5h1M66 268.5h1M571 268.5h2M661 268.5h2M879 268.5h1M67 269.5h1M568 269.5h3M663 269.5h2M878 269.5h1M68 270.5h1M566 270.5h2M665 270.5h1M877 270.5h1M69 271.5h1M564 271.5h2M666 271.5h1M876 271.5h1M70 272.5h1M562 272.5h2M667 272.5h2M875 272.5h1M71 273.5h1M560 273.5h2M669 273.5h1M874 273.5h1M72 274.5h1M558 274.5h2M670 274.5h2M873 274.5h1M73 275.5h1M556 275.5h2M672 275.5h2M872 275.5h1M74 276.5h1M555 276.5h1M674 276.5h2M871 276.5h1M74 277.5h1M553 277.5h2M676 277.5h2M870 277.5h1M75 278.5h1M551 278.5h2M678 278.5h1M869 278.5h1M76 279.5h1M550 279.5h1M679 279.5h2M868 279.5h1M77 280.5h1M548 280.5h2M681 280.5h2M867 280.5h1M78 281.5h1M547 281.5h1M683 281.5h1M865 281.5h2M79 282.5h1M545 282.5h2M684 282.5h2M864 282.5h1M80 283.5h1M543 283.5h2M686 283.5h2M863 283.5h1M81 284.5h1M542 284.5h1M688 284.5h2M862 284.5h1M82 285.5h1M540 285.5h2M690 285.5h2M860 285.5h2M82 286.5h1M539 286.5h1M692 286.5h2M859 286.5h1M83 287.5h1M537 287.5h2M694 287.5h2M857 287.5h2M84 288.5h1M535 288.5h2M696 288.5h2M855 288.5h2M85 289.5h1M534 289.5h1M698 289.5h2M854 289.5h1M86 290.5h1M532 290.5h2M700 290.5h2M852 290.5h2M87 291.5h1M531 291.5h1M702 291.5h1M850 291.5h2M88 292.5h1M529 292.5h2M703 292.5h2M848 292.5h2M89 293.5h1M527 293.5h2M705 293.5h2M846 293.5h2M90 294.5h1M526 294.5h1M707 294.5h1M844 294.5h2M91 295.5h1M525 295.5h1M708 295.5h2M842 295.5h2M92 296.5h1M523 296.5h2M710 296.5h1M840 296.5h2M93 297.5h1M522 297.5h1M711 297.5h2M838 297.5h2M94 298.5h1M521 298.5h1M713 298.5h2M836 298.5h2M95 299.5h1M519 299.5h2M715 299.5h1M834 299.5h2M96 300.5h1M518 300.5h1M716 300.5h2M832 300.5h2M97 301.5h1M517 301.5h1M718 301.5h1M830 301.5h2M98 302.5h1M515 302.5h2M719 302.5h2M828 302.5h2M99 303.5h1M514 303.5h1M721 303.5h1M826 303.5h2M100 304.5h1M513 304.5h1M722 304.5h1M824 304.5h2M101 305.5h1M511 305.5h2M723 305.5h2M822 305.5h2M102 306.5h1M510 306.5h1M725 306.5h1M820 306.5h2M103 307.5h1M509 307.5h1M726 307.5h1M818 307.5h2M104 308.5h1M508 308.5h1M727 308.5h2M816 308.5h2M105 309.5h1M507 309.5h1M729 309.5h1M814 309.5h2M106 310.5h1M505 310.5h2M730 310.5h1M812 310.5h2M106 311.5h1M504 311.5h1M731 311.5h2M810 311.5h2M107 312.5h1M503 312.5h1M733 312.5h1M808 312.5h2M108 313.5h1M502 313.5h1M734 313.5h1M805 313.5h3M109 314.5h1M501 314.5h1M735 314.5h2M803 314.5h2M110 315.5h1M500 315.5h1M737 315.5h1M800 315.5h3M111 316.5h1M499 316.5h1M738 316.5h1M797 316.5h3M112 317.5h1M497 317.5h2M739 317.5h2M795 317.5h2M113 318.5h1M496 318.5h1M741 318.5h1M792 318.5h3M114 319.5h1M495 319.5h1M742 319.5h2M789 319.5h3M114 320.5h1M494 320.5h1M744 320.5h2M785 320.5h4M115 321.5h1M493 321.5h1M746 321.5h2M779 321.5h6M116 322.5h1M492 322.5h1M748 322.5h2M773 322.5h6M117 323.5h1M491 323.5h1M750 323.5h3M769 323.5h4M118 324.5h1M489 324.5h2M753 324.5h4M763 324.5h6M119 325.5h1M488 325.5h1M757 325.5h6M120 326.5h1M487 326.5h1M121 327.5h1M485 327.5h2M122 328.5h1M483 328.5h2M122 329.5h1M480 329.5h3M123 330.5h1M478 330.5h2M124 331.5h1M476 331.5h2M125 332.5h1M474 332.5h2M126 333.5h1M472 333.5h2M127 334.5h1M470 334.5h2M128 335.5h1M468 335.5h2M129 336.5h1M466 336.5h2M130 337.5h1M464 337.5h2M130 338.5h1M462 338.5h2M131 339.5h1M461 339.5h1M132 340.5h1M459 340.5h2M133 341.5h1M458 341.5h1M134 342.5h1M457 342.5h1M135 343.5h1M455 343.5h2M136 344.5h1M454 344.5h1M137 345.5h1M453 345.5h1M138 346.5h1M451 346.5h2M138 347.5h1M450 347.5h1M139 348.5h1M449 348.5h1M140 349.5h1M447 349.5h2M141 350.5h1M446 350.5h1M142 351.5h1M445 351.5h1M143 352.5h1M444 352.5h1M144 353.5h1M443 353.5h1M145 354.5h1M442 354.5h1M146 355.5h1M441 355.5h1M146 356.5h1M440 356.5h1M147 357.5h1M439 357.5h1M148 358.5h1M438 358.5h1M149 359.5h1M437 359.5h1M150 360.5h1M436 360.5h1M151 361.5h1M435 361.5h1M151 362.5h1M434 362.5h1M152 363.5h1M434 363.5h1M153 364.5h1M433 364.5h1M153 365.5h1M432 365.5h1M154 366.5h1M431 366.5h1M155 367.5h1M430 367.5h1M155 368.5h1M429 368.5h1M156 369.5h1M429 369.5h1M157 370.5h1M428 370.5h1M157 371.5h1M427 371.5h1M158 372.5h1M426 372.5h1M159 373.5h1M426 373.5h1M160 374.5h1M425 374.5h1M160 375.5h1M424 375.5h1M161 376.5h1M423 376.5h1M162 377.5h1M423 377.5h1M163 378.5h1M422 378.5h1M164 379.5h1M421 379.5h1M164 380.5h1M421 380.5h1M165 381.5h1M420 381.5h1M166 382.5h1M419 382.5h1M167 383.5h1M418 383.5h1M168 384.5h1M418 384.5h1M169 385.5h2M417 385.5h1M171 386.5h1M416 386.5h1M172 387.5h1M415 387.5h1M173 388.5h1M415 388.5h1M174 389.5h1M414 389.5h1M175 390.5h2M413 390.5h1M177 391.5h1M412 391.5h1M178 392.5h1M412 392.5h1M179 393.5h2M411 393.5h1M181 394.5h1M410 394.5h1M182 395.5h2M409 395.5h1M184 396.5h2M408 396.5h1M186 397.5h2M408 397.5h1M188 398.5h2M407 398.5h1M190 399.5h2M406 399.5h1M192 400.5h3M405 400.5h1M195 401.5h2M404 401.5h1M197 402.5h2M404 402.5h1M199 403.5h1M403 403.5h1M200 404.5h1M402 404.5h1M201 405.5h1M401 405.5h1M202 406.5h1M400 406.5h1M203 407.5h1M400 407.5h1M204 408.5h1M399 408.5h1M205 409.5h1M398 409.5h1M206 410.5h1M397 410.5h1M207 411.5h1M396 411.5h1M208 412.5h1M396 412.5h1M209 413.5h2M395 413.5h1M211 414.5h1M394 414.5h1M212 415.5h1M393 415.5h1M213 416.5h1M392 416.5h1M214 417.5h2M392 417.5h1M216 418.5h3M391 418.5h1M219 419.5h2M390 419.5h1M221 420.5h2M389 420.5h1M223 421.5h2M388 421.5h1M225 422.5h1M387 422.5h1M226 423.5h1M386 423.5h1M227 424.5h2M386 424.5h1M229 425.5h1M385 425.5h1M230 426.5h2M384 426.5h1M232 427.5h3M383 427.5h1M235 428.5h2M382 428.5h1M237 429.5h2M381 429.5h1M239 430.5h2M380 430.5h1M241 431.5h1M379 431.5h1M242 432.5h1M378 432.5h1M243 433.5h2M377 433.5h1M245 434.5h1M376 434.5h1M246 435.5h1M375 435.5h1M247 436.5h2M374 436.5h1M249 437.5h2M373 437.5h1M251 438.5h1M372 438.5h1M252 439.5h2M371 439.5h1M254 440.5h1M369 440.5h2M255 441.5h2M368 441.5h1M257 442.5h2M367 442.5h1M259 443.5h1M366 443.5h1M260 444.5h2M364 444.5h2M262 445.5h2M363 445.5h1M264 446.5h2M361 446.5h2M266 447.5h2M359 447.5h2M268 448.5h2M358 448.5h1M270 449.5h2M356 449.5h2M272 450.5h2M354 450.5h2M274 451.5h2M352 451.5h2M276 452.5h2M349 452.5h3M278 453.5h2M345 453.5h4M280 454.5h3M341 454.5h4M283 455.5h2M337 455.5h4M285 456.5h6M331 456.5h6M291 457.5h40" fill="none" stroke="#ffa500" stroke-width="1"/>
<path d="M1333 172.5h2M1329 173.5h4M1323 174.5h6M1307 175.5h16M1299 176.5h8M1291 177.5h8M1285 178.5h6M1281 179.5h4M1277 180.5h4M1273 181.5h4M1269 182.5h4M1265 183.5h4M1261 184.5h4M1257 185.5h4M1251 186.5h6M6 187.5h2M1243 187.5h8M8 188.5h3M1235 188.5h8M11 189.5h2M1229 189.5h6M13 190.5h4M1225 190.5h4M17 191.5h4M1221 191.5h4M21 192.5h3M1217 192.5h4M24 193.5h3M1213 193.5h4M27 194.5h2M1209 194.5h4M29 195.5h3M1205 195.5h4M32 196.5h3M1203 196.5h2M35 197.5h2M1200 197.5h3M37 198.5h3M1197 198.5h3M40 199.5h3M1193 199.5h4M43 200.5h2M1189 200.5h4M45 201.5h3M1187 201.5h2M48 202.5h3M1184 202.5h3M51 203.5h2M1181 203.5h3M53 204.5h3M1179 204.5h2M56 205.5h3M1176 205.5h3M59 206.5h2M1173 206.5h3M61 207.5h3M1169 207.5h4M64 208.5h2M1165 208.5h4M66 209.5h2M1163 209.5h2M68 210.5h2M1160 210.5h3M70 211.5h2M1157 211.5h3M72 212.5h2M1155 212.5h2M74 213.5h2M1152 213.5h3M76 214.5h2M1149 214.5h3M78 215.5h2M1147 215.5h2M80 216.5h2M1144 216.5h3M82 217.5h2M1142 217.5h2M84 218.5h2M1140 218.5h2M86 219.5h2M1138 219.5h2M88 220.5h2M1136 220.5h2M90 221.5h2M1134 221.5h2M92 222.5h2M1132 222.5h2M94 223.5h2M1130 223.5h2M96 224.5h2M1128 224.5h2M98 225.5h2M1125 225.5h3M100 226.5h2M1121 226.5h4M102 227.5h2M1117 227.5h4M104 228.5h2M1115 228.5h2M106 229.5h2M1112 229.5h3M108 230.5h2M1109 230.5h3M110 231.5h2M1105 231.5h4M112 232.5h2M1101 232.5h4M114 233.5h2M1097 233.5h4M116 234.5h2M1093 234.5h4M118 235.5h2M1091 235.5h2M120 236.5h2M1088 236.5h3M122 237.5h2M1085 237.5h3M124 238.5h2M1081 238.5h4M126 239.5h2M1077 239.5h4M128 240.5h3M1073 240.5h4M131 241.5h2M1069 241.5h4M133 242.5h3M1065 242.5h4M136 243.5h3M1061 243.5h4M139 244.5h2M1057 244.5h4M141 245.5h3M1053 245.5h4M144 246.5h2M1049 246.5h4M146 247.5h2M1045 247.5h4M148 248.5h2M1041 248.5h4M150 249.5h2M1035 249.5h6M152 250.5h2M1019 250.5h16M154 251.5h2M1011 251.5h8M156 252.5h2M995 252.5h16M158 253.5h2M987 253.5h8M160 254.5h2M979 254.5h8M162 255.5h2M971 255.5h8M164 256.5h2M963 256.5h8M166 257.5h1M955 257.5h8M167 258.5h2M947 258.5h8M169 259.5h2M939 259.5h8M171 260.5h1M933 260.5h6M172 261.5h2M929 261.5h4M174 262.5h1M925 262.5h4M175 263.5h2M921 263.5h4M177 264.5h2M917 264.5h4M179 265.5h1M915 265.5h2M180 266.5h2M912 266.5h3M182 267.5h1M910 267.5h2M183 268.5h2M908 268.5h2M185 269.5h1M906 269.5h2M186 270.5h1M904 270.5h2M187 271.5h2M901 271.5h3M189 272.5h1M899 272.5h2M190 273.5h1M896 273.5h3M191 274.5h2M893 274.5h3M193 275.5h2M891 275.5h2M195 276.5h1M888 276.5h3M196 277.5h2M885 277.5h3M198 278.5h1M883 278.5h2M199 279.5h2M880 279.5h3M201 280.5h1M877 280.5h3M202 281.5h1M873 281.5h4M203 282.5h2M869 282.5h4M205 283.5h1M867 283.5h2M206 284.5h1M864 284.5h3M207 285.5h2M859 285.5h5M209 286.5h1M853 286.5h6M210 287.5h1M849 287.5h4M211 288.5h2M845 288.5h4M213 289.5h1M841 289.5h4M214 290.5h1M835 290.5h6M215 291.5h1M827 291.5h8M216 292.5h1M821 292.5h6M217 293.5h2M817 293.5h4M219 294.5h1M811 294.5h6M220 295.5h1M805 295.5h6M221 296.5h1M801 296.5h4M222 297.5h1M795 297.5h6M223 298.5h2M789 298.5h6M225 299.5h1M785 299.5h4M226 300.5h1M779 300.5h6M227 301.5h2M773 301.5h6M229 302.5h1M769 302.5h4M230 303.5h1M763 303.5h6M231 304.5h1M757 304.5h6M232 305.5h1M753 305.5h4M233 306.5h2M739 306.5h14M235 307.5h1M733 307.5h6M236 308.5h1M729 308.5h4M237 309.5h1M725 309.5h4M238 310.5h1M721 310.5h4M239 311.5h1M717 311.5h4M240 312.5h1M713 312.5h4M241 313.5h2M710 313.5h3M243 314.5h1M708 314.5h2M244 315.5h1M706 315.5h2M245 316.5h1M704 316.5h2M246 317.5h1M702 317.5h2M247 318.5h2M700 318.5h2M249 319.5h1M698 319.5h2M250 320.5h1M696 320.5h2M251 321.5h2M694 321.5h2M253 322.5h1M692 322.5h2M254 323.5h1M690 323.5h2M255 324.5h1M688 324.5h2M256 325.5h1M685 325.5h3M257 326.5h2M683 326.5h2M259 327.5h1M680 327.5h3M260 328.5h1M677 328.5h3M261 329.5h1M675 329.5h2M262 330.5h1M672 330.5h3M263 331.5h1M670 331.5h2M264 332.5h1M668 332.5h2M265 333.5h2M666 333.5h2M267 334.5h1M664 334.5h2M268 335.5h1M661 335.5h3M269 336.5h1M659 336.5h2M270 337.5h1M656 337.5h3M271 338.5h2M654 338.5h2M273 339.5h1M652 339.5h2M274 340.5h1M650 340.5h2M275 341.5h2M648 341.5h2M277 342.5h1M645 342.5h3M278 343.5h2M643 343.5h2M280 344.5h2M640 344.5h3M282 345.5h2M637 345.5h3M284 346.5h2M633 346.5h4M286 347.5h2M629 347.5h4M288 348.5h2M625 348.5h4M290 349.5h2M619 349.5h6M292 350.5h2M613 350.5h6M294 351.5h2M609 351.5h4M296 352.5h2M605 352.5h4M298 353.5h2M601 353.5h4M300 354.5h2M595 354.5h6M302 355.5h2M589 355.5h6M304 356.5h2M585 356.5h4M306 357.5h2M581 357.5h4M308 358.5h2M577 358.5h4M310 359.5h1M573 359.5h4M311 360.5h2M571 360.5h2M313 361.5h2M568 361.5h3M315 362.5h1M565 362.5h3M316 363.5h2M563 363.5h2M318 364.5h2M560 364.5h3M320 365.5h2M558 365.5h2M322 366.5h2M556 366.5h2M324 367.5h2M554 367.5h2M326 368.5h2M552 368.5h2M328 369.5h3M550 369.5h2M331 370.5h2M548 370.5h2M333 371.5h4M546 371.5h2M337 372.5h4M544 372.5h2M341 373.5h4M541 373.5h3M345 374.5h4M539 374.5h2M349 375.5h4M536 375.5h3M353 376.5h4M533 376.5h3M357 377.5h4M531 377.5h2M361 378.5h4M528 378.5h3M365 379.5h6M526 379.5h2M371 380.5h6M524 380.5h2M377 381.5h4M522 381.5h2M381 382.5h4M520 382.5h2M385 383.5h4M518 383.5h2M389 384.5h4M516 384.5h2M393 385.5h4M514 385.5h2M397 386.5h4M512 386.5h2M401 387.5h4M509 387.5h3M405 388.5h4M507 388.5h2M409 389.5h4M504 389.5h3M413 390.5h4M502 390.5h2M417 391.5h4M500 391.5h2M421 392.5h4M498 392.5h2M425 393.5h4M496 393.5h2M429 394.5h4M493 394.5h3M433 395.5h4M491 395.5h2M437 396.5h6M488 396.5h3M443 397.5h8M483 397.5h5M451 398.5h32" fill="none" stroke="#ff00ff" stroke-width="1"/>
<rect x="6" y="74" width="1679" height="2" fill="#32cd32"/>
<rect x="6" y="223" width="1679" height="2" fill="#4169e1"/>
<rect x="6" y="388" width="1679" height="2" fill="#4169e1"/>
<rect x="6" y="553" width="1679" height="2" fill="#4169e1"/>
<rect x="5" y="72" width="6" height="6" fill="#32cd32"/>
<rect x="7" y="74" width="2" height="2" fill="#fff"/>
<rect x="5" y="221" width="6" height="6" fill="#4169e1"/>
<rect x="7" y="223" width="2" height="2" fill="#fff"/>
<rect x="5" y="386" width="6" height="6" fill="#4169e1"/>
<rect x="7" y="388" width="2" height="2" fill="#fff"/>
<rect x="1679" y="72" width="6" height="6" fill="#32cd32"/>
<rect x="1681" y="74" width="2" height="2" fill="#fff"/>
<rect x="1679" y="221" width="6" height="6" fill="#4169e1"/>
<rect x="1681" y="223" width="2" height="2" fill="#fff"/>
<rect x="1679" y="386" width="6" height="6" fill="#4169e1"/>
<rect x="1681" y="388" width="2" height="2" fill="#fff"/>
<rect x="6" y="643" width="1" height="13" fill="#c0c0c0"/>
<rect x="14" y="643" width="1" height="26" fill="#c0c0c0"/>
<rect x="22" y="643" width="1" height="35" fill="#c0c0c0"/>
<rect x="30" y="643" width="1" height="42" fill="#c0c0c0"/>
<rect x="38" y="643" width="1" height="52" fill="#c0c0c0"/>
<rect x="46" y="643" width="1" height="58" fill="#c0c0c0"/>
<rect x="54" y="643" width="1" height="69" fill="#c0c0c0"/>
<rect x="62" y="643" width="1" height="78" fill="#c0c0c0"/>
<rect x="70" y="643" width="1" height="86" fill="#c0c0c0"/>
<rect x="78" y="643" width="1" height="89" fill="#c0c0c0"/>
<rect x="86" y="643" width="1" height="92" fill="#c0c0c0"/>
<rect x="94" y="643" width="1" height="91" fill="#c0c0c0"/>
<rect x="102" y="643" width="1" height="88" fill="#c0c0c0"/>
<rect x="110" y="643" width="1" height="85" fill="#c0c0c0"/>
<rect x="118" y="643" width="1" height="84" fill="#c0c0c0"/>
<rect x="126" y="643" width="1" height="82" fill="#c0c0c0"/>
<rect x="134" y="643" width="1" height="78" fill="#c0c0c0"/>
<rect x="142" y="643" width="1" height="72" fill="#c0c0c0"/>
<rect x="150" y="643" width="1" height="67" fill="#c0c0c0"/>
<rect x="158" y="643" width="1" height="64" fill="#c0c0c0"/>
<rect x="166" y="643" width="1" height="61" fill="#c0c0c0"/>
<rect x="174" y="643" width="1" height="58" fill="#c0c0c0"/>
<rect x="182" y="643" width="1" height="55" fill="#c0c0c0"/>
<rect x="190" y="643" width="1" height="52" fill="#c0c0c0"/>
<rect x="198" y="643" width="1" height="51" fill="#c0c0c0"/>
<rect x="206" y="643" width="1" height="58" fill="#c0c0c0"/>
<rect x="214" y="643" width="1" height="62" fill="#c0c0c0"/>
<rect x="222" y="643" width="1" height="64" fill="#c0c0c0"/>
<rect x="230" y="643" width="1" height="71" fill="#c0c0c0"/>
<rect x="238" y="643" width="1" height="72" fill="#c0c0c0"/>
<rect x="246" y="643" width="1" height="76" fill="#c0c0c0"/>
<rect x="254" y="643" width="1" height="77" fill="#c0c0c0"/>
<rect x="262" y="643" width="1" height="74" fill="#c0c0c0"/>
<rect x="270" y="643" width="1" height="71" fill="#c0c0c0"/>
<rect x="278" y="643" width="1" height="67" fill="#c0c0c0"/>
<rect x="286" y="643" width="1" height="60" fill="#c0c0c0"/>
<rect x="294" y="643" width="1" height="47" fill="#c0c0c0"/>
<rect x="302" y="643" width="1" height="35" fill="#c0c0c0"/>
<rect x="310" y="643" width="1" height="24" fill="#c0c0c0"/>
<rect x="318" y="643" width="1" height="16" fill="#c0c0c0"/>
<rect x="326" y="643" width="1" height="10" fill="#c0c0c0"/>
<rect x="334" y="643" width="1" height="3" fill="#c0c0c0"/>
<rect x="342" y="638" width="1" height="6" fill="#c0c0c0"/>
<rect x="350" y="630" width="1" height="14" fill="#c0c0c0"/>
<rect x="358" y="623" width="1" height="21" fill="#c0c0c0"/>
<rect x="366" y="617" width="1" height="27" fill="#c0c0c0"/>
<rect x="374" y="611" width="1" height="33" fill="#c0c0c0"/>
<rect x="382" y="604" width="1" height="40" fill="#c0c0c0"/>
<rect x="390" y="598" width="1" height="46" fill="#c0c0c0"/>
<rect x="398" y="599" width="1" height="45" fill="#c0c0c0"/>
<rect x="406" y="597" width="1" height="47" fill="#c0c0c0"/>
<rect x="414" y="596" width="1" height="48" fill="#c0c0c0"/>
<rect x="422" y="594" width="1" height="50" fill="#c0c0c0"/>
<rect x="430" y="595" width="1" height="49" fill="#c0c0c0"/>
<rect x="438" y="595" width="1" height="49" fill="#c0c0c0"/>
<rect x="446" y="599" width="1" height="45" fill="#c0c0c0"/>
<rect x="454" y="602" width="1" height="42" fill="#c0c0c0"/>
<rect x="462" y="604" width="1" height="40" fill="#c0c0c0"/>
<rect x="470" y="606" width="1" height="38" fill="#c0c0c0"/>
<rect x="478" y="608" width="1" height="36" fill="#c0c0c0"/>
<rect x="486" y="612" width="1" height="32" fill="#c0c0c0"/>
<rect x="494" y="603" width="1" height="41" fill="#c0c0c0"/>
<rect x="502" y="598" width="1" height="46" fill="#c0c0c0"/>
<rect x="510" y="593" width="1" height="51" fill="#c0c0c0"/>
<rect x="518" y="587" width="1" height="57" fill="#c0c0c0"/>
<rect x="526" y="585" width="1" height="59" fill="#c0c0c0"/>
<rect x="534" y="585" width="1" height="59" fill="#c0c0c0"/>
<rect x="542" y="584" width="1" height="60" fill="#c0c0c0"/>
<rect x="550" y="583" width="1" height="61" fill="#c0c0c0"/>
<rect x="558" y="582" width="1" height="62" fill="#c0c0c0"/>
<rect x="566" y="587" width="1" height="57" fill="#c0c0c0"/>
<rect x="574" y="590" width="1" height="54" fill="#c0c0c0"/>
<rect x="582" y="597" width="1" height="47" fill="#c0c0c0"/>
<rect x="590" y="605" width="1" height="39" fill="#c0c0c0"/>
<rect x="598" y="617" width="1" height="27" fill="#c0c0c0"/>
<rect x="606" y="627" width="1" height="17" fill="#c0c0c0"/>
<rect x="614" y="633" width="1" height="11" fill="#c0c0c0"/>
<rect x="622" y="638" width="1" height="6" fill="#c0c0c0"/>
<rect x="630" y="642" width="1" height="2" fill="#c0c0c0"/>
<rect x="638" y="643" width="1" height="3" fill="#c0c0c0"/>
<rect x="646" y="643" width="1" height="6" fill="#c0c0c0"/>
<rect x="654" y="643" width="1" height="8" fill="#c0c0c0"/>
<rect x="662" y="643" width="1" height="9" fill="#c0c0c0"/>
<rect x="670" y="643" width="1" height="11" fill="#c0c0c0"/>
<rect x="678" y="643" width="1" height="13" fill="#c0c0c0"/>
<rect x="686" y="643" width="1" height="10" fill="#c0c0c0"/>
<rect x="694" y="643" width="1" height="8" fill="#c0c0c0"/>
<rect x="702" y="643" width="1" height="9" fill="#c0c0c0"/>
<rect x="710" y="643" width="1" height="10" fill="#c0c0c0"/>
<rect x="718" y="643" width="1" height="11" fill="#c0c0c0"/>
<rect x="726" y="643" width="1" height="15" fill="#c0c0c0"/>
<rect x="734" y="643" width="1" height="18" fill="#c0c0c0"/>
<rect x="742" y="643" width="1" height="20" fill="#c0c0c0"/>
<rect x="750" y="643" width="1" height="21" fill="#c0c0c0"/>
<rect x="758" y="643" width="1" height="19" fill="#c0c0c0"/>
<rect x="766" y="643" width="1" height="13" fill="#c0c0c0"/>
<rect x="774" y="643" width="1" height="8" fill="#c0c0c0"/>
<rect x="782" y="643" width="1" height="1" fill="#c0c0c0"/>
<rect x="790" y="641" width="1" height="3" fill="#c0c0c0"/>
<rect x="798" y="636" width="1" height="8" fill="#c0c0c0"/>
<rect x="806" y="630" width="1" height="14" fill="#c0c0c0"/>
<rect x="814" y="627" width="1" height="17" fill="#c0c0c0"/>
<rect x="822" y="622" width="1" height="22" fill="#c0c0c0"/>
<rect x="830" y="620" width="1" height="24" fill="#c0c0c0"/>
<rect x="838" y="617" width="1" height="27" fill="#c0c0c0"/>
<rect x="846" y="614" width="1" height="30" fill="#c0c0c0"/>
<rect x="854" y="612" width="1" height="32" fill="#c0c0c0"/>
<rect x="862" y="606" width="1" height="38" fill="#c0c0c0"/>
<rect x="870" y="600" width="1" height="44" fill="#c0c0c0"/>
<rect x="878" y="592" width="1" height="52" fill="#c0c0c0"/>
<rect x="886" y="588" width="1" height="56" fill="#c0c0c0"/>
<rect x="894" y="586" width="1" height="58" fill="#c0c0c0"/>
<rect x="902" y="586" width="1" height="58" fill="#c0c0c0"/>
<rect x="910" y="587" width="1" height="57" fill="#c0c0c0"/>
<rect x="918" y="587" width="1" height="57" fill="#c0c0c0"/>
<rect x="926" y="587" width="1" height="57" fill="#c0c0c0"/>
<rect x="934" y="591" width="1" height="53" fill="#c0c0c0"/>
<rect x="942" y="592" width="1" height="52" fill="#c0c0c0"/>
<rect x="950" y="589" width="1" height="55" fill="#c0c0c0"/>
<rect x="958" y="588" width="1" height="56" fill="#c0c0c0"/>
<rect x="966" y="594" width="1" height="50" fill="#c0c0c0"/>
<rect x="974" y="600" width="1" height="44" fill="#c0c0c0"/>
<rect x="982" y="604" width="1" height="40" fill="#c0c0c0"/>
<rect x="990" y="608" width="1" height="36" fill="#c0c0c0"/>
<rect x="998" y="611" width="1" height="33" fill="#c0c0c0"/>
<rect x="1006" y="618" width="1" height="26" fill="#c0c0c0"/>
<rect x="1014" y="623" width="1" height="21" fill="#c0c0c0"/>
<rect x="1022" y="631" width="1" height="13" fill="#c0c0c0"/>
<rect x="1030" y="636" width="1" height="8" fill="#c0c0c0"/>
<rect x="1038" y="640" width="1" height="4" fill="#c0c0c0"/>
<rect x="1046" y="643" width="1" height="1" fill="#c0c0c0"/>
<rect x="1054" y="642" width="1" height="2" fill="#c0c0c0"/>
<rect x="1062" y="643" width="1" height="4" fill="#c0c0c0"/>
<rect x="1070" y="642" width="1" height="2" fill="#c0c0c0"/>
<rect x="1078" y="642" width="1" height="2" fill="#c0c0c0"/>
<rect x="1086" y="642" width="1" height="2" fill="#c0c0c0"/>
<rect x="1094" y="642" width="1" height="2" fill="#c0c0c0"/>
<rect x="1102" y="640" width="1" height="4" fill="#c0c0c0"/>
<rect x="1110" y="639" width="1" height="5" fill="#c0c0c0"/>
<rect x="1118" y="637" width="1" height="7" fill="#c0c0c0"/>
<rect x="1126" y="635" width="1" height="9" fill="#c0c0c0"/>
<rect x="1134" y="631" width="1" height="13" fill="#c0c0c0"/>
<rect x="1142" y="624" width="1" height="20" fill="#c0c0c0"/>
<rect x="1150" y="623" width="1" height="21" fill="#c0c0c0"/>
<rect x="1158" y="628" width="1" height="16" fill="#c0c0c0"/>
<rect x="1166" y="628" width="1" height="16" fill="#c0c0c0"/>
<rect x="1174" y="631" width="1" height="13" fill="#c0c0c0"/>
<rect x="1182" y="632" width="1" height="12" fill="#c0c0c0"/>
<rect x="1190" y="633" width="1" height="11" fill="#c0c0c0"/>
<rect x="1198" y="633" width="1" height="11" fill="#c0c0c0"/>
<rect x="1206" y="635" width="1" height="9" fill="#c0c0c0"/>
<rect x="1214" y="635" width="1" height="9" fill="#c0c0c0"/>
<rect x="1222" y="636" width="1" height="8" fill="#c0c0c0"/>
<rect x="1230" y="636" width="1" height="8" fill="#c0c0c0"/>
<rect x="1238" y="635" width="1" height="9" fill="#c0c0c0"/>
<rect x="1246" y="636" width="1" height="8" fill="#c0c0c0"/>
<rect x="1254" y="637" width="1" height="7" fill="#c0c0c0"/>
<rect x="1262" y="635" width="1" height="9" fill="#c0c0c0"/>
<rect x="1270" y="632" width="1" height="12" fill="#c0c0c0"/>
<rect x="1278" y="627" width="1" height="17" fill="#c0c0c0"/>
<rect x="1286" y="626" width="1" height="18" fill="#c0c0c0"/>
<rect x="1294" y="624" width="1" height="20" fill="#c0c0c0"/>
<rect x="1302" y="622" width="1" height="22" fill="#c0c0c0"/>
<rect x="1310" y="619" width="1" height="25" fill="#c0c0c0"/>
<rect x="1318" y="618" width="1" height="26" fill="#c0c0c0"/>
<rect x="1326" y="617" width="1" height="27" fill="#c0c0c0"/>
<rect x="1334" y="610" width="1" height="34" fill="#c0c0c0"/>
<path d="M573 585.5h3M567 586.5h3M579 586.5h3M561 587.5h3M585 587.5h3M939 587.5h3M945 587.5h3M951 587.5h3M957 587.5h3M557 588.5h1M591 588.5h1M933 588.5h3M963 588.5h3M555 589.5h2M592 589.5h2M927 589.5h3M969 589.5h3M975 590.5h3M549 591.5h3M597 591.5h2M922 591.5h2M981 591.5h3M599 592.5h1M921 592.5h1M544 593.5h2M917 593.5h1M987 593.5h2M543 594.5h1M603 594.5h1M915 594.5h2M989 594.5h1M539 595.5h1M604 595.5h2M993 595.5h2M443 596.5h1M447 596.5h3M453 596.5h3M537 596.5h2M909 596.5h3M995 596.5h1M437 597.5h1M441 597.5h2M459 597.5h3M465 597.5h2M533 597.5h1M999 597.5h1M435 598.5h2M467 598.5h1M471 598.5h3M531 598.5h2M609 598.5h2M904 598.5h2M1000 598.5h2M430 599.5h2M477 599.5h3M525 599.5h3M611 599.5h1M903 599.5h1M429 600.5h1M483 600.5h3M521 600.5h1M899 600.5h1M1005 600.5h3M489 601.5h3M507 601.5h3M513 601.5h3M519 601.5h2M897 601.5h2M424 602.5h2M495 602.5h3M501 602.5h3M615 602.5h2M1011 602.5h1M423 603.5h1M617 603.5h1M892 603.5h2M1012 603.5h2M891 604.5h1M418 605.5h2M1017 605.5h1M417 606.5h1M621 606.5h1M886 606.5h2M1018 606.5h2M622 607.5h1M885 607.5h1M412 608.5h2M623 608.5h1M411 609.5h1M880 609.5h2M1023 609.5h2M879 610.5h1M1025 610.5h1M407 611.5h1M627 611.5h1M406 612.5h1M628 612.5h1M874 612.5h2M1029 612.5h1M405 613.5h1M629 613.5h1M873 613.5h1M1030 613.5h1M1031 614.5h1M401 615.5h1M868 615.5h2M399 616.5h2M867 616.5h1M1035 616.5h1M633 617.5h2M1036 617.5h2M635 618.5h1M862 618.5h2M395 619.5h1M861 619.5h1M1041 619.5h1M394 620.5h1M1042 620.5h2M393 621.5h1M856 621.5h2M639 622.5h1M855 622.5h1M640 623.5h1M1047 623.5h2M1329 623.5h3M389 624.5h1M641 624.5h1M850 624.5h2M1049 624.5h1M1325 624.5h1M388 625.5h1M849 625.5h1M1323 625.5h2M387 626.5h1M1053 626.5h1M1317 626.5h3M645 627.5h1M844 627.5h2M1054 627.5h1M1311 627.5h3M646 628.5h1M843 628.5h1M1055 628.5h1M1187 628.5h1M1191 628.5h3M1197 628.5h3M1305 628.5h3M383 629.5h1M647 629.5h1M1173 629.5h3M1179 629.5h3M1185 629.5h2M1203 629.5h3M1209 629.5h2M1299 629.5h3M382 630.5h1M839 630.5h1M1059 630.5h1M1167 630.5h3M1211 630.5h1M1215 630.5h3M1293 630.5h3M381 631.5h1M838 631.5h1M1060 631.5h2M1161 631.5h3M1221 631.5h3M1289 631.5h1M651 632.5h2M837 632.5h1M1157 632.5h1M1227 632.5h3M1233 632.5h2M1283 632.5h1M1287 632.5h2M653 633.5h1M1065 633.5h1M1155 633.5h2M1235 633.5h1M1239 633.5h3M1275 633.5h3M1281 633.5h2M377 634.5h1M832 634.5h2M1066 634.5h2M1149 634.5h3M1245 634.5h3M1251 634.5h3M1257 634.5h3M1263 634.5h3M1269 634.5h3M376 635.5h1M831 635.5h1M1145 635.5h1M375 636.5h1M657 636.5h2M1071 636.5h1M1143 636.5h2M659 637.5h1M827 637.5h1M1072 637.5h2M1139 637.5h1M825 638.5h2M1137 638.5h2M663 639.5h1M1077 639.5h3M1133 639.5h1M371 640.5h1M664 640.5h2M1083 640.5h2M1131 640.5h2M369 641.5h2M820 641.5h2M1085 641.5h1M1125 641.5h3M669 642.5h1M819 642.5h1M1089 642.5h3M1115 642.5h1M1119 642.5h3M670 643.5h2M1095 643.5h3M1101 643.5h3M1107 643.5h3M1113 643.5h2M814 644.5h2M365 645.5h1M675 645.5h1M813 645.5h1M364 646.5h1M676 646.5h2M363 647.5h1M808 647.5h2M681 648.5h2M807 648.5h1M683 649.5h1M687 650.5h3M802 650.5h2M359 651.5h1M693 651.5h3M801 651.5h1M358 652.5h1M699 652.5h3M705 652.5h2M797 652.5h1M357 653.5h1M707 653.5h1M711 653.5h3M795 653.5h2M717 654.5h3M723 654.5h3M729 654.5h2M731 655.5h1M735 655.5h3M789 655.5h3M741 656.5h3M785 656.5h1M354 657.5h1M747 657.5h3M753 657.5h2M779 657.5h1M783 657.5h2M353 658.5h1M755 658.5h1M759 658.5h3M765 658.5h3M771 658.5h3M777 658.5h2M352 659.5h1M6 663.5h3M12 663.5h3M18 663.5h1M348 663.5h1M19 664.5h2M24 664.5h3M347 664.5h1M30 665.5h2M346 665.5h1M32 666.5h1M36 667.5h1M37 668.5h2M343 669.5h1M42 670.5h1M342 670.5h1M43 671.5h1M341 671.5h1M44 672.5h1M48 674.5h1M49 675.5h1M338 675.5h1M50 676.5h1M337 676.5h1M336 677.5h1M54 679.5h1M55 680.5h1M56 681.5h1M332 681.5h1M331 682.5h1M330 683.5h1M60 684.5h1M61 685.5h1M62 686.5h1M326 687.5h1M325 688.5h1M324 689.5h1M66 690.5h1M67 691.5h1M68 692.5h1M320 693.5h1M319 694.5h1M318 695.5h1M72 696.5h1M73 697.5h1M74 698.5h1M313 699.5h2M312 700.5h1M222 701.5h3M78 702.5h1M211 702.5h2M216 702.5h3M228 702.5h3M234 702.5h1M79 703.5h1M205 703.5h2M210 703.5h1M235 703.5h2M240 703.5h1M308 703.5h1M80 704.5h1M204 704.5h1M241 704.5h2M307 704.5h1M198 705.5h3M246 705.5h2M306 705.5h1M248 706.5h1M84 707.5h1M192 707.5h3M252 707.5h1M302 707.5h1M85 708.5h1M253 708.5h2M300 708.5h2M86 709.5h1M187 709.5h2M258 709.5h1M186 710.5h1M259 710.5h2M296 710.5h1M182 711.5h1M264 711.5h1M294 711.5h2M90 712.5h1M180 712.5h2M265 712.5h2M289 712.5h2M91 713.5h2M270 713.5h3M276 713.5h3M282 713.5h3M288 713.5h1M176 714.5h1M174 715.5h2M96 716.5h1M97 717.5h1M168 717.5h3M98 718.5h1M164 719.5h1M162 720.5h2M102 721.5h2M104 722.5h1M157 722.5h2M156 723.5h1M108 724.5h2M152 724.5h1M110 725.5h1M150 725.5h2M114 726.5h1M145 726.5h2M115 727.5h2M144 727.5h1M120 728.5h3M138 728.5h3M126 729.5h3M132 729.5h3" fill="none" stroke="#ff0000" stroke-width="1"/>
<line x1="7" y1="784.5" x2="1685" y2="784.5" stroke="#c0c0c0" stroke-width="1" stroke-dasharray="3 3"/>
<line x1="7" y1="835.5" x2="1685" y2="835.5" stroke="#c0c0c0" stroke-width="1" stroke-dasharray="3 3"/>
</g>
<g shape-rendering="crispEdges">
<path d="M878 773.5h1M877 774.5h1M879 774.5h1M875 775.5h2M880 775.5h1M874 776.5h1M880 776.5h1M873 777.5h1M881 777.5h1M871 778.5h2M882 778.5h1M869 779.5h2M883 779.5h1M867 780.5h2M884 780.5h1M864 781.5h3M884 781.5h1M382 782.5h9M862 782.5h2M885 782.5h1M1334 782.5h1M380 783.5h2M391 783.5h1M861 783.5h1M886 783.5h5M950 783.5h3M1142 783.5h1M1333 783.5h1M378 784.5h2M391 784.5h1M517 784.5h2M860 784.5h1M891 784.5h13M925 784.5h2M949 784.5h1M953 784.5h4M1141 784.5h2M1333 784.5h1M376 785.5h2M392 785.5h1M494 785.5h2M515 785.5h2M519 785.5h2M859 785.5h1M904 785.5h2M921 785.5h4M927 785.5h1M948 785.5h1M957 785.5h2M1139 785.5h2M1143 785.5h1M1332 785.5h1M373 786.5h3M392 786.5h1M494 786.5h1M496 786.5h2M512 786.5h3M521 786.5h2M857 786.5h2M906 786.5h2M917 786.5h4M927 786.5h1M947 786.5h1M958 786.5h1M1138 786.5h1M1143 786.5h1M1331 786.5h1M371 787.5h2M393 787.5h1M493 787.5h1M498 787.5h2M509 787.5h3M523 787.5h1M822 787.5h1M856 787.5h1M908 787.5h2M913 787.5h4M928 787.5h1M946 787.5h1M959 787.5h1M1137 787.5h1M1144 787.5h1M1330 787.5h1M368 788.5h3M393 788.5h1M493 788.5h1M500 788.5h2M505 788.5h4M524 788.5h2M549 788.5h10M821 788.5h1M823 788.5h1M855 788.5h1M910 788.5h3M929 788.5h1M945 788.5h1M959 788.5h1M1135 788.5h2M1144 788.5h1M1330 788.5h1M363 789.5h5M394 789.5h1M421 789.5h3M493 789.5h1M502 789.5h3M526 789.5h2M545 789.5h4M559 789.5h1M806 789.5h1M820 789.5h1M824 789.5h1M845 789.5h10M930 789.5h1M944 789.5h1M960 789.5h1M1134 789.5h1M1145 789.5h1M1329 789.5h1M357 790.5h6M395 790.5h1M406 790.5h5M417 790.5h4M424 790.5h3M492 790.5h1M528 790.5h2M541 790.5h4M560 790.5h1M804 790.5h2M807 790.5h2M819 790.5h1M825 790.5h1M841 790.5h4M930 790.5h1M943 790.5h1M960 790.5h1M1133 790.5h1M1145 790.5h1M1328 790.5h1M353 791.5h4M395 791.5h1M405 791.5h1M411 791.5h6M427 791.5h2M435 791.5h4M492 791.5h1M530 791.5h2M539 791.5h2M560 791.5h1M802 791.5h2M809 791.5h2M817 791.5h2M826 791.5h1M838 791.5h3M931 791.5h1M942 791.5h1M961 791.5h1M1132 791.5h1M1146 791.5h1M1278 791.5h1M1310 791.5h2M1327 791.5h1M342 792.5h11M396 792.5h1M403 792.5h2M429 792.5h6M439 792.5h1M491 792.5h1M532 792.5h2M536 792.5h3M561 792.5h1M800 792.5h2M811 792.5h1M816 792.5h1M827 792.5h1M836 792.5h2M932 792.5h1M940 792.5h2M961 792.5h1M1132 792.5h1M1146 792.5h1M1276 792.5h2M1279 792.5h1M1308 792.5h2M1312 792.5h3M1327 792.5h1M341 793.5h1M396 793.5h1M402 793.5h1M439 793.5h1M491 793.5h1M534 793.5h2M562 793.5h1M795 793.5h5M812 793.5h2M815 793.5h1M828 793.5h1M834 793.5h2M933 793.5h1M938 793.5h2M961 793.5h1M1131 793.5h1M1147 793.5h1M1275 793.5h1M1280 793.5h1M1306 793.5h2M1315 793.5h2M1323 793.5h4M340 794.5h1M397 794.5h1M401 794.5h1M440 794.5h1M491 794.5h1M563 794.5h1M789 794.5h6M814 794.5h1M829 794.5h1M832 794.5h2M933 794.5h1M936 794.5h2M962 794.5h1M1130 794.5h1M1147 794.5h1M1273 794.5h2M1281 794.5h1M1304 794.5h2M1317 794.5h6M339 795.5h1M397 795.5h1M399 795.5h2M441 795.5h1M490 795.5h1M564 795.5h1M787 795.5h2M830 795.5h2M934 795.5h2M962 795.5h1M1129 795.5h1M1148 795.5h1M1271 795.5h2M1282 795.5h1M1299 795.5h5M337 796.5h2M398 796.5h1M442 796.5h1M490 796.5h1M564 796.5h1M784 796.5h3M963 796.5h1M1128 796.5h1M1148 796.5h1M1270 796.5h1M1282 796.5h1M1294 796.5h5M336 797.5h1M442 797.5h1M490 797.5h1M565 797.5h1M781 797.5h3M963 797.5h1M1128 797.5h1M1149 797.5h1M1268 797.5h2M1283 797.5h1M1292 797.5h2M335 798.5h1M443 798.5h1M469 798.5h10M489 798.5h1M566 798.5h5M779 798.5h2M963 798.5h1M1127 798.5h1M1149 798.5h1M1266 798.5h2M1284 798.5h1M1290 798.5h2M334 799.5h1M444 799.5h1M453 799.5h6M465 799.5h4M479 799.5h1M489 799.5h1M571 799.5h4M776 799.5h3M964 799.5h1M1125 799.5h2M1150 799.5h1M1264 799.5h2M1285 799.5h1M1288 799.5h2M309 800.5h4M332 800.5h2M445 800.5h1M451 800.5h2M459 800.5h6M480 800.5h1M489 800.5h1M575 800.5h2M773 800.5h3M964 800.5h1M1121 800.5h4M1151 800.5h1M1238 800.5h1M1262 800.5h2M1286 800.5h2M305 801.5h4M313 801.5h4M330 801.5h2M445 801.5h1M448 801.5h3M481 801.5h1M488 801.5h1M577 801.5h1M771 801.5h2M965 801.5h1M1115 801.5h6M1151 801.5h1M1237 801.5h1M1239 801.5h1M1261 801.5h1M301 802.5h4M317 802.5h6M328 802.5h2M446 802.5h2M482 802.5h1M488 802.5h1M578 802.5h1M768 802.5h3M965 802.5h1M995 802.5h4M1094 802.5h21M1152 802.5h1M1236 802.5h1M1240 802.5h1M1260 802.5h1M297 803.5h4M323 803.5h5M482 803.5h1M487 803.5h1M579 803.5h2M766 803.5h2M966 803.5h1M987 803.5h8M999 803.5h1M1092 803.5h2M1152 803.5h1M1235 803.5h1M1241 803.5h1M1259 803.5h1M294 804.5h3M483 804.5h1M487 804.5h1M581 804.5h1M765 804.5h1M966 804.5h21M999 804.5h1M1091 804.5h1M1153 804.5h1M1233 804.5h2M1242 804.5h1M1258 804.5h1M293 805.5h1M484 805.5h1M487 805.5h1M582 805.5h1M764 805.5h1M1000 805.5h1M1089 805.5h2M1153 805.5h1M1166 805.5h2M1232 805.5h1M1243 805.5h1M1258 805.5h1M293 806.5h1M485 806.5h2M583 806.5h2M686 806.5h1M764 806.5h1M1001 806.5h1M1087 806.5h2M1154 806.5h1M1165 806.5h1M1168 806.5h2M1189 806.5h11M1231 806.5h1M1244 806.5h1M1257 806.5h1M292 807.5h1M486 807.5h1M585 807.5h2M685 807.5h1M687 807.5h2M763 807.5h1M1001 807.5h1M1083 807.5h4M1155 807.5h1M1164 807.5h1M1170 807.5h2M1187 807.5h2M1200 807.5h3M1213 807.5h18M1245 807.5h1M1256 807.5h1M291 808.5h1M587 808.5h1M685 808.5h1M689 808.5h1M762 808.5h1M1002 808.5h1M1070 808.5h13M1155 808.5h1M1163 808.5h1M1172 808.5h2M1184 808.5h3M1203 808.5h2M1209 808.5h4M1246 808.5h5M1255 808.5h1M291 809.5h1M588 809.5h2M684 809.5h1M690 809.5h1M761 809.5h1M1003 809.5h1M1069 809.5h1M1156 809.5h1M1162 809.5h1M1174 809.5h10M1205 809.5h4M1251 809.5h4M290 810.5h1M590 810.5h1M684 810.5h1M691 810.5h2M760 810.5h1M1003 810.5h1M1014 810.5h1M1068 810.5h1M1156 810.5h1M1161 810.5h1M289 811.5h1M591 811.5h1M683 811.5h1M693 811.5h1M760 811.5h1M1004 811.5h1M1012 811.5h2M1015 811.5h1M1067 811.5h1M1157 811.5h1M1160 811.5h1M289 812.5h1M591 812.5h1M683 812.5h1M694 812.5h5M759 812.5h1M1005 812.5h1M1010 812.5h2M1016 812.5h1M1066 812.5h1M1157 812.5h1M1159 812.5h1M288 813.5h1M592 813.5h1M682 813.5h1M699 813.5h6M758 813.5h1M1005 813.5h1M1008 813.5h2M1016 813.5h1M1065 813.5h1M1158 813.5h1M287 814.5h1M593 814.5h1M682 814.5h1M705 814.5h4M757 814.5h1M1006 814.5h2M1017 814.5h1M1053 814.5h4M1064 814.5h1M287 815.5h1M594 815.5h1M681 815.5h1M709 815.5h3M756 815.5h1M1018 815.5h1M1049 815.5h4M1057 815.5h4M1063 815.5h1M286 816.5h1M594 816.5h1M659 816.5h5M681 816.5h1M712 816.5h2M756 816.5h1M1019 816.5h1M1043 816.5h6M1061 816.5h2M285 817.5h1M595 817.5h1M613 817.5h12M651 817.5h8M664 817.5h2M680 817.5h1M714 817.5h2M755 817.5h1M1020 817.5h1M1029 817.5h14M284 818.5h1M596 818.5h1M611 818.5h2M625 818.5h4M643 818.5h8M666 818.5h2M680 818.5h1M716 818.5h2M754 818.5h1M1020 818.5h1M1027 818.5h2M6 819.5h1M283 819.5h1M597 819.5h1M608 819.5h3M629 819.5h14M668 819.5h2M679 819.5h1M718 819.5h1M753 819.5h1M1021 819.5h1M1024 819.5h3M6 820.5h1M281 820.5h2M597 820.5h1M603 820.5h5M670 820.5h5M679 820.5h1M719 820.5h2M752 820.5h1M1022 820.5h2M7 821.5h1M280 821.5h1M598 821.5h5M675 821.5h4M721 821.5h2M752 821.5h1M7 822.5h1M279 822.5h1M723 822.5h1M751 822.5h1M8 823.5h1M278 823.5h1M724 823.5h2M749 823.5h2M8 824.5h1M277 824.5h1M726 824.5h5M747 824.5h2M8 825.5h1M142 825.5h5M275 825.5h2M731 825.5h8M744 825.5h3M9 826.5h1M140 826.5h2M147 826.5h5M274 826.5h1M739 826.5h5M9 827.5h1M139 827.5h1M152 827.5h3M262 827.5h3M273 827.5h1M10 828.5h1M137 828.5h2M155 828.5h2M187 828.5h5M261 828.5h1M265 828.5h4M271 828.5h2M10 829.5h1M135 829.5h2M157 829.5h6M171 829.5h16M192 829.5h3M260 829.5h1M269 829.5h2M10 830.5h1M134 830.5h1M163 830.5h8M195 830.5h2M259 830.5h1M11 831.5h1M132 831.5h2M197 831.5h2M258 831.5h1M11 832.5h1M101 832.5h4M130 832.5h2M199 832.5h1M258 832.5h1M12 833.5h1M99 833.5h2M105 833.5h4M128 833.5h2M199 833.5h1M238 833.5h2M257 833.5h1M12 834.5h1M96 834.5h3M109 834.5h4M125 834.5h3M200 834.5h1M237 834.5h1M240 834.5h2M256 834.5h1M12 835.5h1M22 835.5h5M94 835.5h2M113 835.5h4M121 835.5h4M200 835.5h1M237 835.5h1M242 835.5h2M255 835.5h1M13 836.5h1M20 836.5h2M27 836.5h4M93 836.5h1M117 836.5h4M201 836.5h1M236 836.5h1M244 836.5h2M251 836.5h4M13 837.5h1M18 837.5h2M31 837.5h2M92 837.5h1M201 837.5h1M236 837.5h1M246 837.5h5M14 838.5h1M16 838.5h2M33 838.5h2M45 838.5h2M91 838.5h1M202 838.5h1M214 838.5h9M235 838.5h1M14 839.5h2M35 839.5h1M43 839.5h2M47 839.5h1M90 839.5h1M202 839.5h1M213 839.5h1M223 839.5h1M234 839.5h1M36 840.5h2M40 840.5h3M48 840.5h1M89 840.5h1M203 840.5h1M212 840.5h1M224 840.5h1M234 840.5h1M38 841.5h2M49 841.5h2M78 841.5h3M88 841.5h1M203 841.5h1M211 841.5h1M225 841.5h1M233 841.5h1M51 842.5h1M77 842.5h1M81 842.5h4M87 842.5h1M204 842.5h1M210 842.5h1M226 842.5h1M232 842.5h1M52 843.5h1M75 843.5h2M85 843.5h2M204 843.5h1M209 843.5h1M227 843.5h1M232 843.5h1M53 844.5h1M74 844.5h1M205 844.5h1M208 844.5h1M228 844.5h1M231 844.5h1M54 845.5h5M73 845.5h1M205 845.5h1M207 845.5h1M229 845.5h1M231 845.5h1M59 846.5h8M71 846.5h2M206 846.5h1M230 846.5h1M67 847.5h4" fill="none" stroke="#1e90ff" stroke-width="1"/>
</g>
<rect x="1686" y="72" width="2" height="1" fill="#000"/>
<rect x="1686" y="39" width="2" height="1" fill="#000"/>
<text x="1691.6" y="43" font-size="9.8" fill="#000" stroke="#000" stroke-width="0.3" textLength="32.5" lengthAdjust="spacingAndGlyphs">1920.90</text>
<rect x="1686" y="105" width="2" height="1" fill="#000"/>
<text x="1691.6" y="109" font-size="9.8" fill="#000" stroke="#000" stroke-width="0.3" textLength="32.5" lengthAdjust="spacingAndGlyphs">1901.10</text>
<rect x="1686" y="138" width="2" height="1" fill="#000"/>
<text x="1691.6" y="142" font-size="9.8" fill="#000" stroke="#000" stroke-width="0.3" textLength="32.5" lengthAdjust="spacingAndGlyphs">1891.20</text>
<rect x="1686" y="171" width="2" height="1" fill="#000"/>
<text x="1691.6" y="175" font-size="9.8" fill="#000" stroke="#000" stroke-width="0.3" textLength="32.5" lengthAdjust="spacingAndGlyphs">1881.00</text>
<rect x="1686" y="204" width="2" height="1" fill="#000"/>
<text x="1691.6" y="208" font-size="9.8" fill="#000" stroke="#000" stroke-width="0.3" textLength="32.5" lengthAdjust="spacingAndGlyphs">1871.10</text>
<rect x="1686" y="237" width="2" height="1" fill="#000"/>
<text x="1691.6" y="241" font-size="9.8" fill="#000" stroke="#000" stroke-width="0.3" textLength="32.5" lengthAdjust="spacingAndGlyphs">1861.20</text>
<rect x="1686" y="270" width="2" height="1" fill="#000"/>
<text x="1691.6" y="274" font-size="9.8" fill="#000" stroke="#000" stroke-width="0.3" textLength="32.5" lengthAdjust="spacingAndGlyphs">1851.00</text>
<rect x="1686" y="303" width="2" height="1" fill="#000"/>
<text x="1691.6" y="307" font-size="9.8" fill="#000" stroke="#000" stroke-width="0.3" textLength="32.5" lengthAdjust="spacingAndGlyphs">1841.10</text>
<rect x="1686" y="336" width="2" height="1" fill="#000"/>
<text x="1691.6" y="340" font-size="9.8" fill="#000" stroke="#000" stroke-width="0.3" textLength="32.5" lengthAdjust="spacingAndGlyphs">1831.20</text>
<rect x="1686" y="369" width="2" height="1" fill="#000"/>
<text x="1691.6" y="373" font-size="9.8" fill="#000" stroke="#000" stroke-width="0.3" textLength="32.5" lengthAdjust="spacingAndGlyphs">1821.00</text>
<rect x="1686" y="402" width="2" height="1" fill="#000"/>
<text x="1691.6" y="406" font-size="9.8" fill="#000" stroke="#000" stroke-width="0.3" textLength="32.5" lengthAdjust="spacingAndGlyphs">1811.10</text>
<rect x="1686" y="435" width="2" height="1" fill="#000"/>
<text x="1691.6" y="439" font-size="9.8" fill="#000" stroke="#000" stroke-width="0.3" textLength="32.5" lengthAdjust="spacingAndGlyphs">1801.20</text>
<rect x="1686" y="468" width="2" height="1" fill="#000"/>
<text x="1691.6" y="472" font-size="9.8" fill="#000" stroke="#000" stroke-width="0.3" textLength="32.5" lengthAdjust="spacingAndGlyphs">1791.00</text>
<rect x="1686" y="501" width="2" height="1" fill="#000"/>
<text x="1691.6" y="505" font-size="9.8" fill="#000" stroke="#000" stroke-width="0.3" textLength="32.5" lengthAdjust="spacingAndGlyphs">1781.10</text>
<rect x="1686" y="534" width="2" height="1" fill="#000"/>
<text x="1691.6" y="538" font-size="9.8" fill="#000" stroke="#000" stroke-width="0.3" textLength="32.5" lengthAdjust="spacingAndGlyphs">1771.20</text>
<rect x="1686" y="567" width="2" height="1" fill="#000"/>
<text x="1691.6" y="571" font-size="9.8" fill="#000" stroke="#000" stroke-width="0.3" textLength="32.5" lengthAdjust="spacingAndGlyphs">1761.30</text>
<rect x="1687" y="61" width="38" height="11" fill="#000"/>
<text x="1691.6" y="70" font-size="9.8" fill="#fff" stroke="#fff" stroke-width="0.3" textLength="32.5" lengthAdjust="spacingAndGlyphs">1913.01</text>
<rect x="1687" y="69" width="38" height="11" fill="#32cd32"/>
<text x="1691.6" y="78" font-size="9.8" fill="#fff" stroke="#fff" stroke-width="0.3" textLength="32.5" lengthAdjust="spacingAndGlyphs">1910.00</text>
<rect x="1687" y="218" width="38" height="11" fill="#4169e1"/>
<text x="1691.6" y="227" font-size="9.8" fill="#fff" stroke="#fff" stroke-width="0.3" textLength="32.5" lengthAdjust="spacingAndGlyphs">1865.00</text>
<rect x="1687" y="383" width="38" height="11" fill="#4169e1"/>
<text x="1691.6" y="392" font-size="9.8" fill="#fff" stroke="#fff" stroke-width="0.3" textLength="32.5" lengthAdjust="spacingAndGlyphs">1815.00</text>
<rect x="1687" y="548" width="38" height="11" fill="#4169e1"/>
<text x="1691.6" y="557" font-size="9.8" fill="#fff" stroke="#fff" stroke-width="0.3" textLength="32.5" lengthAdjust="spacingAndGlyphs">1765.00</text>
<text x="1689" y="583" font-size="9.8" fill="#000" stroke="#000" stroke-width="0.3" textLength="28.5" lengthAdjust="spacingAndGlyphs">13.765</text>
<rect x="1686" y="643" width="2" height="1" fill="#000"/>
<text x="1689" y="647" font-size="9.8" fill="#000" stroke="#000" stroke-width="0.3" textLength="18" lengthAdjust="spacingAndGlyphs">0.00</text>
<text x="1689" y="740.2" font-size="9.8" fill="#000" stroke="#000" stroke-width="0.3" textLength="26" lengthAdjust="spacingAndGlyphs">-19.82</text>
<text x="1689.4" y="756" font-size="9.8" fill="#000" stroke="#000" stroke-width="0.3" textLength="14.6" lengthAdjust="spacingAndGlyphs">100</text>
<text x="1688.5" y="788" font-size="9.8" fill="#000" stroke="#000" stroke-width="0.3" textLength="9.3" lengthAdjust="spacingAndGlyphs">70</text>
<text x="1688.5" y="839" font-size="9.8" fill="#000" stroke="#000" stroke-width="0.3" textLength="9.3" lengthAdjust="spacingAndGlyphs">30</text>
<text x="1689.4" y="870" font-size="9.8" fill="#000" stroke="#000" stroke-width="0.3" textLength="4.6" lengthAdjust="spacingAndGlyphs">0</text>
<path d="M9 40 L16 40 L12.5 44 Z" fill="#000"/>
<text x="20.8" y="45" font-size="9.8" fill="#000" stroke="#000" stroke-width="0.3" textLength="204" lengthAdjust="spacingAndGlyphs">XAUUSD-,H4  1902.99 1914.80 1902.99 1913.01</text>
<text x="10" y="585" font-size="9.8" fill="#000" stroke="#000" stroke-width="0.3" textLength="118" lengthAdjust="spacingAndGlyphs">MACD(12,26,9) 6.730 4.372</text>
<text x="10" y="758" font-size="9.8" fill="#000" stroke="#000" stroke-width="0.3" textLength="67.6" lengthAdjust="spacingAndGlyphs">RSI(14) 72.5252</text>
<rect x="6" y="874" width="1" height="3" fill="#000"/>
<text x="5" y="886" font-size="9.8" fill="#000" stroke="#000" stroke-width="0.3" textLength="54" lengthAdjust="spacingAndGlyphs">23 Nov 2020</text>
<rect x="70" y="874" width="1" height="3" fill="#000"/>
<text x="69" y="886" font-size="9.8" fill="#000" stroke="#000" stroke-width="0.3" textLength="57" lengthAdjust="spacingAndGlyphs">24 Nov 16:00</text>
<rect x="134" y="874" width="1" height="3" fill="#000"/>
<text x="133" y="886" font-size="9.8" fill="#000" stroke="#000" stroke-width="0.3" textLength="57" lengthAdjust="spacingAndGlyphs">26 Nov 00:00</text>
<rect x="198" y="874" width="1" height="3" fill="#000"/>
<text x="197" y="886" font-size="9.8" fill="#000" stroke="#000" stroke-width="0.3" textLength="57" lengthAdjust="spacingAndGlyphs">27 Nov 08:00</text>
<rect x="262" y="874" width="1" height="3" fill="#000"/>
<text x="261" y="886" font-size="9.8" fill="#000" stroke="#000" stroke-width="0.3" textLength="57" lengthAdjust="spacingAndGlyphs">30 Nov 16:00</text>
<rect x="326" y="874" width="1" height="3" fill="#000"/>
<text x="325" y="886" font-size="9.8" fill="#000" stroke="#000" stroke-width="0.3" textLength="50" lengthAdjust="spacingAndGlyphs">2 Dec 00:00</text>
<rect x="390" y="874" width="1" height="3" fill="#000"/>
<text x="389" y="886" font-size="9.8" fill="#000" stroke="#000" stroke-width="0.3" textLength="50" lengthAdjust="spacingAndGlyphs">3 Dec 08:00</text>
<rect x="454" y="874" width="1" height="3" fill="#000"/>
<text x="453" y="886" font-size="9.8" fill="#000" stroke="#000" stroke-width="0.3" textLength="50" lengthAdjust="spacingAndGlyphs">4 Dec 16:00</text>
<rect x="518" y="874" width="1" height="3" fill="#000"/>
<text x="517" y="886" font-size="9.8" fill="#000" stroke="#000" stroke-width="0.3" textLength="50" lengthAdjust="spacingAndGlyphs">8 Dec 00:00</text>
<rect x="582" y="874" width="1" height="3" fill="#000"/>
<text x="581" y="886" font-size="9.8" fill="#000" stroke="#000" stroke-width="0.3" textLength="50" lengthAdjust="spacingAndGlyphs">9 Dec 08:00</text>
<rect x="646" y="874" width="1" height="3" fill="#000"/>
<text x="645" y="886" font-size="9.8" fill="#000" stroke="#000" stroke-width="0.3" textLength="55" lengthAdjust="spacingAndGlyphs">10 Dec 16:00</text>
<rect x="710" y="874" width="1" height="3" fill="#000"/>
<text x="709" y="886" font-size="9.8" fill="#000" stroke="#000" stroke-width="0.3" textLength="55" lengthAdjust="spacingAndGlyphs">14 Dec 00:00</text>
<rect x="774" y="874" width="1" height="3" fill="#000"/>
<text x="773" y="886" font-size="9.8" fill="#000" stroke="#000" stroke-width="0.3" textLength="55" lengthAdjust="spacingAndGlyphs">15 Dec 08:00</text>
<rect x="838" y="874" width="1" height="3" fill="#000"/>
<text x="837" y="886" font-size="9.8" fill="#000" stroke="#000" stroke-width="0.3" textLength="55" lengthAdjust="spacingAndGlyphs">16 Dec 16:00</text>
<rect x="902" y="874" width="1" height="3" fill="#000"/>
<text x="901" y="886" font-size="9.8" fill="#000" stroke="#000" stroke-width="0.3" textLength="55" lengthAdjust="spacingAndGlyphs">18 Dec 00:00</text>
<rect x="966" y="874" width="1" height="3" fill="#000"/>
<text x="965" y="886" font-size="9.8" fill="#000" stroke="#000" stroke-width="0.3" textLength="55" lengthAdjust="spacingAndGlyphs">21 Dec 08:00</text>
<rect x="1030" y="874" width="1" height="3" fill="#000"/>
<text x="1029" y="886" font-size="9.8" fill="#000" stroke="#000" stroke-width="0.3" textLength="55" lengthAdjust="spacingAndGlyphs">22 Dec 16:00</text>
<rect x="1094" y="874" width="1" height="3" fill="#000"/>
<text x="1093" y="886" font-size="9.8" fill="#000" stroke="#000" stroke-width="0.3" textLength="55" lengthAdjust="spacingAndGlyphs">24 Dec 00:00</text>
<rect x="1158" y="874" width="1" height="3" fill="#000"/>
<text x="1157" y="886" font-size="9.8" fill="#000" stroke="#000" stroke-width="0.3" textLength="55" lengthAdjust="spacingAndGlyphs">28 Dec 08:00</text>
<rect x="1222" y="874" width="1" height="3" fill="#000"/>
<text x="1221" y="886" font-size="9.8" fill="#000" stroke="#000" stroke-width="0.3" textLength="55" lengthAdjust="spacingAndGlyphs">29 Dec 16:00</text>
<rect x="1286" y="874" width="1" height="3" fill="#000"/>
<text x="1285" y="886" font-size="9.8" fill="#000" stroke="#000" stroke-width="0.3" textLength="55" lengthAdjust="spacingAndGlyphs">31 Dec 00:00</text>
<text x="1268" y="321.5" font-size="37" fill="#ee1c25" transform="translate(0,321.5) scale(1,1.05) translate(0,-321.5)" style="font-family:'Liberation Sans','Noto Sans CJK SC',sans-serif">多空转折点<tspan font-size="39.5" letter-spacing="-0.5" dx="-3.4" dy="-0.6">1910</tspan></text>
</svg>
</body></html>
